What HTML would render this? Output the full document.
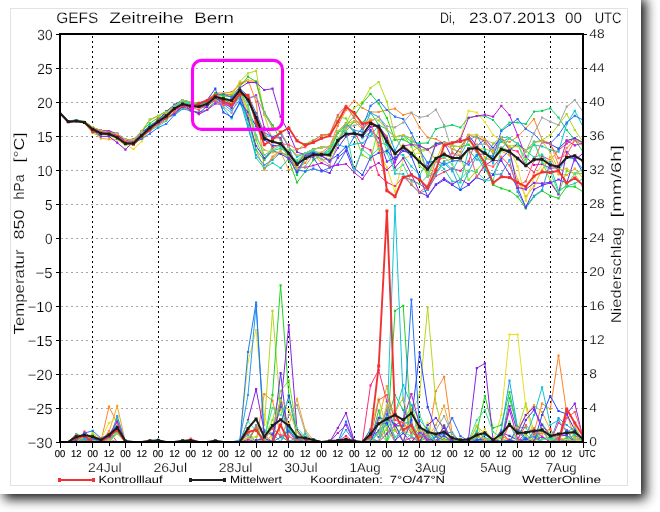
<!DOCTYPE html>
<html lang="de"><head><meta charset="utf-8"><title>GEFS Zeitreihe Bern</title>
<style>
html,body{margin:0;padding:0;background:#fff;}
body{width:660px;height:512px;overflow:hidden;font-family:"Liberation Sans", Arial, sans-serif;}
#root{position:relative;width:660px;height:512px;overflow:hidden;background:#fff;}
#panel{position:absolute;left:-1px;top:-6px;width:642px;height:500px;background:#fff;box-shadow:5px 5px 11px rgba(0,0,0,.92);}
#chart{position:absolute;left:0;top:0;width:660px;height:512px;display:block;will-change:transform;transform:translateZ(0);}
</style></head><body>
<div id="root">
<div id="panel"></div>
<div id="chart"><svg width="660" height="512" viewBox="0 0 660 512"><rect x="10.5" y="8.5" width="617" height="477" fill="none" stroke="#e2e2e2" stroke-width="1"/>
<g stroke="#a6a6a6" stroke-width="1" stroke-dasharray="2 3" shape-rendering="crispEdges"><line x1="61" y1="68.5" x2="582" y2="68.5"/><line x1="61" y1="102.5" x2="582" y2="102.5"/><line x1="61" y1="136.5" x2="582" y2="136.5"/><line x1="61" y1="170.5" x2="582" y2="170.5"/><line x1="61" y1="204.5" x2="582" y2="204.5"/><line x1="61" y1="238.5" x2="582" y2="238.5"/><line x1="61" y1="272.5" x2="582" y2="272.5"/><line x1="61" y1="306.5" x2="582" y2="306.5"/><line x1="61" y1="340.5" x2="582" y2="340.5"/><line x1="61" y1="374.5" x2="582" y2="374.5"/><line x1="61" y1="408.5" x2="582" y2="408.5"/></g>
<g stroke="#000" stroke-width="1" stroke-dasharray="2 3" shape-rendering="crispEdges"><line x1="92.5" y1="36" x2="92.5" y2="441"/><line x1="158.5" y1="36" x2="158.5" y2="441"/><line x1="223.5" y1="36" x2="223.5" y2="441"/><line x1="288.5" y1="36" x2="288.5" y2="441"/><line x1="354.5" y1="36" x2="354.5" y2="441"/><line x1="419.5" y1="36" x2="419.5" y2="441"/><line x1="484.5" y1="36" x2="484.5" y2="441"/><line x1="550.5" y1="36" x2="550.5" y2="441"/></g>
<clipPath id="pc"><rect x="60" y="34" width="523" height="407"/></clipPath>
<g clip-path="url(#pc)" fill="none" stroke-linejoin="round">
<polyline points="60.0,112.5 68.2,121.5 76.3,120.5 84.5,121.5 92.7,127.5 100.9,130.6 109.0,131.4 117.2,136.8 125.4,141.7 133.5,140.4 141.7,133.5 149.9,125.5 158.1,120.2 166.2,112.7 174.4,106.2 182.6,102.9 190.8,102.6 198.9,103.1 207.1,100.0 215.3,93.1 223.4,93.1 231.6,92.2 239.8,84.1 248.0,80.5 256.1,81.8 264.3,113.8 272.5,126.4 280.6,131.3 288.8,146.9 297.0,155.6 305.2,153.2 313.3,149.3 321.5,147.3 329.7,147.3 337.8,131.1 346.0,123.6 354.2,132.1 362.4,146.0 370.5,150.1 378.7,175.0 386.9,182.5 395.0,186.0 403.2,177.0 411.4,180.0 419.6,184.0 427.7,190.0 435.9,176.0 444.1,172.0 452.2,168.4 460.4,170.8 468.6,161.6 476.8,136.6 484.9,141.2 493.1,154.0 501.3,140.3 509.5,149.2 517.6,151.4 525.8,165.1 534.0,172.5 542.1,156.0 550.3,160.2 558.5,150.2 566.7,143.6 574.8,138.2 583.0,142.7" stroke="#ff2a7e" stroke-width="1.0"/>
<path d="M91.6 126.4h2.2v2.2h-2.2zM99.8 129.5h2.2v2.2h-2.2zM107.9 130.3h2.2v2.2h-2.2zM116.1 135.7h2.2v2.2h-2.2zM124.3 140.6h2.2v2.2h-2.2zM132.4 139.3h2.2v2.2h-2.2zM140.6 132.4h2.2v2.2h-2.2zM148.8 124.4h2.2v2.2h-2.2zM157.0 119.1h2.2v2.2h-2.2zM165.1 111.6h2.2v2.2h-2.2zM173.3 105.1h2.2v2.2h-2.2zM181.5 101.8h2.2v2.2h-2.2zM189.7 101.5h2.2v2.2h-2.2zM197.8 102.0h2.2v2.2h-2.2zM206.0 98.9h2.2v2.2h-2.2zM214.2 92.0h2.2v2.2h-2.2zM222.3 92.0h2.2v2.2h-2.2zM230.5 91.1h2.2v2.2h-2.2zM238.7 83.0h2.2v2.2h-2.2zM246.9 79.4h2.2v2.2h-2.2zM255.0 80.7h2.2v2.2h-2.2zM263.2 112.7h2.2v2.2h-2.2zM271.4 125.3h2.2v2.2h-2.2zM279.5 130.2h2.2v2.2h-2.2zM287.7 145.8h2.2v2.2h-2.2zM295.9 154.5h2.2v2.2h-2.2zM304.1 152.1h2.2v2.2h-2.2zM312.2 148.2h2.2v2.2h-2.2zM320.4 146.2h2.2v2.2h-2.2zM328.6 146.2h2.2v2.2h-2.2zM336.7 130.0h2.2v2.2h-2.2zM344.9 122.5h2.2v2.2h-2.2zM353.1 131.0h2.2v2.2h-2.2zM361.3 144.9h2.2v2.2h-2.2zM369.4 149.0h2.2v2.2h-2.2zM377.6 173.9h2.2v2.2h-2.2zM385.8 181.4h2.2v2.2h-2.2zM393.9 184.9h2.2v2.2h-2.2zM402.1 175.9h2.2v2.2h-2.2zM410.3 178.9h2.2v2.2h-2.2zM418.5 182.9h2.2v2.2h-2.2zM426.6 188.9h2.2v2.2h-2.2zM434.8 174.9h2.2v2.2h-2.2zM443.0 170.9h2.2v2.2h-2.2zM451.1 167.3h2.2v2.2h-2.2zM459.3 169.7h2.2v2.2h-2.2zM467.5 160.5h2.2v2.2h-2.2zM475.7 135.5h2.2v2.2h-2.2zM483.8 140.1h2.2v2.2h-2.2zM492.0 152.9h2.2v2.2h-2.2zM500.2 139.2h2.2v2.2h-2.2zM508.4 148.1h2.2v2.2h-2.2zM516.5 150.3h2.2v2.2h-2.2zM524.7 164.0h2.2v2.2h-2.2zM532.9 171.4h2.2v2.2h-2.2zM541.0 154.9h2.2v2.2h-2.2zM549.2 159.1h2.2v2.2h-2.2zM557.4 149.1h2.2v2.2h-2.2zM565.6 142.5h2.2v2.2h-2.2zM573.7 137.1h2.2v2.2h-2.2zM581.9 141.6h2.2v2.2h-2.2z" fill="#ff2a7e" stroke="none"/>
<polyline points="60.0,441.9 68.2,441.9 76.3,441.9 84.5,431.7 92.7,439.3 100.9,440.9 109.0,431.4 117.2,441.9 125.4,441.9 133.5,441.9 141.7,441.9 149.9,441.9 158.1,441.9 166.2,441.9 174.4,441.9 182.6,441.9 190.8,441.9 198.9,441.9 207.1,441.9 215.3,441.9 223.4,441.9 231.6,441.9 239.8,441.9 248.0,441.9 256.1,441.9 264.3,435.3 272.5,441.9 280.6,398.0 288.8,432.0 297.0,441.9 305.2,438.6 313.3,440.0 321.5,441.9 329.7,441.9 337.8,441.0 346.0,436.1 354.2,441.9 362.4,441.9 370.5,385.4 378.7,370.0 386.9,401.6 395.0,430.0 403.2,441.5 411.4,437.5 419.6,441.9 427.7,441.1 435.9,441.9 444.1,441.0 452.2,437.6 460.4,439.9 468.6,441.2 476.8,441.9 484.9,439.8 493.1,441.9 501.3,430.9 509.5,441.9 517.6,441.9 525.8,432.8 534.0,428.4 542.1,437.0 550.3,441.9 558.5,422.7 566.7,430.0 574.8,435.2 583.0,441.2" stroke="#ff2a7e" stroke-width="1.0"/>
<path d="M83.4 430.6h2.2v2.2h-2.2zM91.6 438.2h2.2v2.2h-2.2zM99.8 439.8h2.2v2.2h-2.2zM107.9 430.3h2.2v2.2h-2.2zM263.2 434.2h2.2v2.2h-2.2zM279.5 396.9h2.2v2.2h-2.2zM287.7 430.9h2.2v2.2h-2.2zM304.1 437.5h2.2v2.2h-2.2zM312.2 438.9h2.2v2.2h-2.2zM336.7 439.9h2.2v2.2h-2.2zM344.9 435.0h2.2v2.2h-2.2zM369.4 384.3h2.2v2.2h-2.2zM377.6 368.9h2.2v2.2h-2.2zM385.8 400.5h2.2v2.2h-2.2zM393.9 428.9h2.2v2.2h-2.2zM402.1 440.4h2.2v2.2h-2.2zM410.3 436.4h2.2v2.2h-2.2zM426.6 440.0h2.2v2.2h-2.2zM443.0 439.9h2.2v2.2h-2.2zM451.1 436.5h2.2v2.2h-2.2zM459.3 438.8h2.2v2.2h-2.2zM467.5 440.1h2.2v2.2h-2.2zM483.8 438.7h2.2v2.2h-2.2zM500.2 429.8h2.2v2.2h-2.2zM524.7 431.7h2.2v2.2h-2.2zM532.9 427.3h2.2v2.2h-2.2zM541.0 435.9h2.2v2.2h-2.2zM557.4 421.6h2.2v2.2h-2.2zM565.6 428.9h2.2v2.2h-2.2zM573.7 434.1h2.2v2.2h-2.2zM581.9 440.1h2.2v2.2h-2.2z" fill="#ff2a7e" stroke="none"/>
<polyline points="60.0,112.7 68.2,121.9 76.3,121.4 84.5,122.2 92.7,128.4 100.9,133.3 109.0,131.5 117.2,134.4 125.4,141.1 133.5,143.1 141.7,136.6 149.9,127.7 158.1,121.0 166.2,115.1 174.4,110.8 182.6,104.2 190.8,105.7 198.9,106.9 207.1,103.8 215.3,95.9 223.4,94.8 231.6,94.3 239.8,83.0 248.0,80.0 256.1,101.7 264.3,169.0 272.5,156.5 280.6,150.7 288.8,159.5 297.0,168.2 305.2,162.9 313.3,151.7 321.5,152.5 329.7,146.4 337.8,125.8 346.0,110.0 354.2,100.8 362.4,108.0 370.5,112.0 378.7,112.0 386.9,110.0 395.0,108.7 403.2,115.0 411.4,112.5 419.6,127.5 427.7,137.5 435.9,139.0 444.1,143.5 452.2,149.0 460.4,152.1 468.6,134.9 476.8,137.6 484.9,141.2 493.1,151.3 501.3,140.0 509.5,142.0 517.6,136.7 525.8,128.3 534.0,119.0 542.1,140.0 550.3,143.3 558.5,165.0 566.7,148.0 574.8,140.0 583.0,143.0" stroke="#ff8424" stroke-width="1.0"/>
<path d="M91.6 127.3h2.2v2.2h-2.2zM99.8 132.2h2.2v2.2h-2.2zM107.9 130.4h2.2v2.2h-2.2zM116.1 133.3h2.2v2.2h-2.2zM124.3 140.0h2.2v2.2h-2.2zM132.4 142.0h2.2v2.2h-2.2zM140.6 135.5h2.2v2.2h-2.2zM148.8 126.6h2.2v2.2h-2.2zM157.0 119.9h2.2v2.2h-2.2zM165.1 114.0h2.2v2.2h-2.2zM173.3 109.7h2.2v2.2h-2.2zM181.5 103.1h2.2v2.2h-2.2zM189.7 104.6h2.2v2.2h-2.2zM197.8 105.8h2.2v2.2h-2.2zM206.0 102.7h2.2v2.2h-2.2zM214.2 94.8h2.2v2.2h-2.2zM222.3 93.7h2.2v2.2h-2.2zM230.5 93.2h2.2v2.2h-2.2zM238.7 81.9h2.2v2.2h-2.2zM246.9 78.9h2.2v2.2h-2.2zM255.0 100.6h2.2v2.2h-2.2zM263.2 167.9h2.2v2.2h-2.2zM271.4 155.4h2.2v2.2h-2.2zM279.5 149.6h2.2v2.2h-2.2zM287.7 158.4h2.2v2.2h-2.2zM295.9 167.1h2.2v2.2h-2.2zM304.1 161.8h2.2v2.2h-2.2zM312.2 150.6h2.2v2.2h-2.2zM320.4 151.4h2.2v2.2h-2.2zM328.6 145.3h2.2v2.2h-2.2zM336.7 124.7h2.2v2.2h-2.2zM344.9 108.9h2.2v2.2h-2.2zM353.1 99.7h2.2v2.2h-2.2zM361.3 106.9h2.2v2.2h-2.2zM369.4 110.9h2.2v2.2h-2.2zM377.6 110.9h2.2v2.2h-2.2zM385.8 108.9h2.2v2.2h-2.2zM393.9 107.6h2.2v2.2h-2.2zM402.1 113.9h2.2v2.2h-2.2zM410.3 111.4h2.2v2.2h-2.2zM418.5 126.4h2.2v2.2h-2.2zM426.6 136.4h2.2v2.2h-2.2zM434.8 137.9h2.2v2.2h-2.2zM443.0 142.4h2.2v2.2h-2.2zM451.1 147.9h2.2v2.2h-2.2zM459.3 151.0h2.2v2.2h-2.2zM467.5 133.8h2.2v2.2h-2.2zM475.7 136.5h2.2v2.2h-2.2zM483.8 140.1h2.2v2.2h-2.2zM492.0 150.2h2.2v2.2h-2.2zM500.2 138.9h2.2v2.2h-2.2zM508.4 140.9h2.2v2.2h-2.2zM516.5 135.6h2.2v2.2h-2.2zM524.7 127.2h2.2v2.2h-2.2zM532.9 117.9h2.2v2.2h-2.2zM541.0 138.9h2.2v2.2h-2.2zM549.2 142.2h2.2v2.2h-2.2zM557.4 163.9h2.2v2.2h-2.2zM565.6 146.9h2.2v2.2h-2.2zM573.7 138.9h2.2v2.2h-2.2zM581.9 141.9h2.2v2.2h-2.2z" fill="#ff8424" stroke="none"/>
<polyline points="60.0,441.9 68.2,441.9 76.3,441.9 84.5,439.5 92.7,439.9 100.9,441.7 109.0,406.7 117.2,423.0 125.4,441.9 133.5,441.9 141.7,441.9 149.9,441.9 158.1,441.0 166.2,441.9 174.4,441.9 182.6,441.9 190.8,441.1 198.9,441.9 207.1,441.9 215.3,441.9 223.4,441.9 231.6,441.9 239.8,441.9 248.0,441.9 256.1,441.9 264.3,394.0 272.5,400.7 280.6,435.0 288.8,441.9 297.0,441.9 305.2,441.9 313.3,441.9 321.5,441.9 329.7,441.9 337.8,441.8 346.0,440.5 354.2,441.9 362.4,441.9 370.5,440.4 378.7,440.7 386.9,427.9 395.0,441.9 403.2,441.9 411.4,409.3 419.6,435.2 427.7,441.9 435.9,391.0 444.1,376.8 452.2,434.0 460.4,441.9 468.6,441.9 476.8,436.6 484.9,441.1 493.1,441.9 501.3,436.2 509.5,439.4 517.6,441.9 525.8,441.9 534.0,432.0 542.1,403.6 550.3,409.0 558.5,355.7 566.7,413.0 574.8,438.0 583.0,441.9" stroke="#ff8424" stroke-width="1.0"/>
<path d="M83.4 438.4h2.2v2.2h-2.2zM91.6 438.8h2.2v2.2h-2.2zM107.9 405.6h2.2v2.2h-2.2zM116.1 421.9h2.2v2.2h-2.2zM157.0 439.9h2.2v2.2h-2.2zM189.7 440.0h2.2v2.2h-2.2zM263.2 392.9h2.2v2.2h-2.2zM271.4 399.6h2.2v2.2h-2.2zM279.5 433.9h2.2v2.2h-2.2zM344.9 439.4h2.2v2.2h-2.2zM369.4 439.3h2.2v2.2h-2.2zM377.6 439.6h2.2v2.2h-2.2zM385.8 426.8h2.2v2.2h-2.2zM410.3 408.2h2.2v2.2h-2.2zM418.5 434.1h2.2v2.2h-2.2zM434.8 389.9h2.2v2.2h-2.2zM443.0 375.7h2.2v2.2h-2.2zM451.1 432.9h2.2v2.2h-2.2zM475.7 435.5h2.2v2.2h-2.2zM483.8 440.0h2.2v2.2h-2.2zM500.2 435.1h2.2v2.2h-2.2zM508.4 438.3h2.2v2.2h-2.2zM532.9 430.9h2.2v2.2h-2.2zM541.0 402.5h2.2v2.2h-2.2zM549.2 407.9h2.2v2.2h-2.2zM557.4 354.6h2.2v2.2h-2.2zM565.6 411.9h2.2v2.2h-2.2zM573.7 436.9h2.2v2.2h-2.2z" fill="#ff8424" stroke="none"/>
<polyline points="60.0,112.7 68.2,121.9 76.3,121.1 84.5,122.0 92.7,130.2 100.9,138.5 109.0,139.1 117.2,139.5 125.4,145.1 133.5,142.9 141.7,137.8 149.9,128.4 158.1,122.5 166.2,115.6 174.4,107.7 182.6,101.7 190.8,106.3 198.9,107.2 207.1,106.5 215.3,99.1 223.4,100.1 231.6,102.3 239.8,92.0 248.0,115.0 256.1,150.0 264.3,170.0 272.5,158.0 280.6,151.9 288.8,170.0 297.0,166.4 305.2,154.0 313.3,154.0 321.5,163.1 329.7,153.6 337.8,138.9 346.0,128.5 354.2,121.4 362.4,129.3 370.5,121.2 378.7,127.1 386.9,135.9 395.0,155.9 403.2,144.9 411.4,152.1 419.6,146.5 427.7,149.6 435.9,159.9 444.1,152.6 452.2,160.3 460.4,161.2 468.6,148.8 476.8,144.3 484.9,157.7 493.1,161.2 501.3,151.1 509.5,155.2 517.6,179.6 525.8,196.5 534.0,186.2 542.1,169.8 550.3,156.8 558.5,174.3 566.7,175.0 574.8,168.7 583.0,178.2" stroke="#f2a822" stroke-width="1.0"/>
<path d="M91.6 129.1h2.2v2.2h-2.2zM99.8 137.4h2.2v2.2h-2.2zM107.9 138.0h2.2v2.2h-2.2zM116.1 138.4h2.2v2.2h-2.2zM124.3 144.0h2.2v2.2h-2.2zM132.4 141.8h2.2v2.2h-2.2zM140.6 136.7h2.2v2.2h-2.2zM148.8 127.3h2.2v2.2h-2.2zM157.0 121.4h2.2v2.2h-2.2zM165.1 114.5h2.2v2.2h-2.2zM173.3 106.6h2.2v2.2h-2.2zM181.5 100.6h2.2v2.2h-2.2zM189.7 105.2h2.2v2.2h-2.2zM197.8 106.1h2.2v2.2h-2.2zM206.0 105.4h2.2v2.2h-2.2zM214.2 98.0h2.2v2.2h-2.2zM222.3 99.0h2.2v2.2h-2.2zM230.5 101.2h2.2v2.2h-2.2zM238.7 90.9h2.2v2.2h-2.2zM246.9 113.9h2.2v2.2h-2.2zM255.0 148.9h2.2v2.2h-2.2zM263.2 168.9h2.2v2.2h-2.2zM271.4 156.9h2.2v2.2h-2.2zM279.5 150.8h2.2v2.2h-2.2zM287.7 168.9h2.2v2.2h-2.2zM295.9 165.3h2.2v2.2h-2.2zM304.1 152.9h2.2v2.2h-2.2zM312.2 152.9h2.2v2.2h-2.2zM320.4 162.0h2.2v2.2h-2.2zM328.6 152.5h2.2v2.2h-2.2zM336.7 137.8h2.2v2.2h-2.2zM344.9 127.4h2.2v2.2h-2.2zM353.1 120.3h2.2v2.2h-2.2zM361.3 128.2h2.2v2.2h-2.2zM369.4 120.1h2.2v2.2h-2.2zM377.6 126.0h2.2v2.2h-2.2zM385.8 134.8h2.2v2.2h-2.2zM393.9 154.8h2.2v2.2h-2.2zM402.1 143.8h2.2v2.2h-2.2zM410.3 151.0h2.2v2.2h-2.2zM418.5 145.4h2.2v2.2h-2.2zM426.6 148.5h2.2v2.2h-2.2zM434.8 158.8h2.2v2.2h-2.2zM443.0 151.5h2.2v2.2h-2.2zM451.1 159.2h2.2v2.2h-2.2zM459.3 160.1h2.2v2.2h-2.2zM467.5 147.7h2.2v2.2h-2.2zM475.7 143.2h2.2v2.2h-2.2zM483.8 156.6h2.2v2.2h-2.2zM492.0 160.1h2.2v2.2h-2.2zM500.2 150.0h2.2v2.2h-2.2zM508.4 154.1h2.2v2.2h-2.2zM516.5 178.5h2.2v2.2h-2.2zM524.7 195.4h2.2v2.2h-2.2zM532.9 185.1h2.2v2.2h-2.2zM541.0 168.7h2.2v2.2h-2.2zM549.2 155.7h2.2v2.2h-2.2zM557.4 173.2h2.2v2.2h-2.2zM565.6 173.9h2.2v2.2h-2.2zM573.7 167.6h2.2v2.2h-2.2zM581.9 177.1h2.2v2.2h-2.2z" fill="#f2a822" stroke="none"/>
<polyline points="60.0,441.9 68.2,441.9 76.3,439.7 84.5,441.9 92.7,435.3 100.9,440.7 109.0,432.0 117.2,405.8 125.4,441.9 133.5,441.9 141.7,441.9 149.9,441.9 158.1,441.1 166.2,441.9 174.4,441.9 182.6,441.9 190.8,441.2 198.9,441.9 207.1,441.9 215.3,441.9 223.4,441.9 231.6,441.9 239.8,441.9 248.0,431.7 256.1,441.9 264.3,441.3 272.5,435.5 280.6,403.8 288.8,425.0 297.0,398.8 305.2,430.0 313.3,440.0 321.5,441.9 329.7,441.9 337.8,441.9 346.0,441.9 354.2,441.9 362.4,441.9 370.5,441.9 378.7,420.0 386.9,386.0 395.0,425.0 403.2,441.9 411.4,441.9 419.6,436.5 427.7,438.1 435.9,425.0 444.1,405.5 452.2,438.0 460.4,441.9 468.6,441.9 476.8,426.3 484.9,433.6 493.1,439.3 501.3,434.6 509.5,441.9 517.6,429.9 525.8,415.0 534.0,405.0 542.1,412.0 550.3,430.0 558.5,441.9 566.7,441.9 574.8,436.9 583.0,441.9" stroke="#f2a822" stroke-width="1.0"/>
<path d="M75.2 438.6h2.2v2.2h-2.2zM91.6 434.2h2.2v2.2h-2.2zM99.8 439.6h2.2v2.2h-2.2zM107.9 430.9h2.2v2.2h-2.2zM116.1 404.7h2.2v2.2h-2.2zM157.0 440.0h2.2v2.2h-2.2zM189.7 440.1h2.2v2.2h-2.2zM246.9 430.6h2.2v2.2h-2.2zM263.2 440.2h2.2v2.2h-2.2zM271.4 434.4h2.2v2.2h-2.2zM279.5 402.7h2.2v2.2h-2.2zM287.7 423.9h2.2v2.2h-2.2zM295.9 397.7h2.2v2.2h-2.2zM304.1 428.9h2.2v2.2h-2.2zM312.2 438.9h2.2v2.2h-2.2zM377.6 418.9h2.2v2.2h-2.2zM385.8 384.9h2.2v2.2h-2.2zM393.9 423.9h2.2v2.2h-2.2zM418.5 435.4h2.2v2.2h-2.2zM426.6 437.0h2.2v2.2h-2.2zM434.8 423.9h2.2v2.2h-2.2zM443.0 404.4h2.2v2.2h-2.2zM451.1 436.9h2.2v2.2h-2.2zM475.7 425.2h2.2v2.2h-2.2zM483.8 432.5h2.2v2.2h-2.2zM492.0 438.2h2.2v2.2h-2.2zM500.2 433.5h2.2v2.2h-2.2zM516.5 428.8h2.2v2.2h-2.2zM524.7 413.9h2.2v2.2h-2.2zM532.9 403.9h2.2v2.2h-2.2zM541.0 410.9h2.2v2.2h-2.2zM549.2 428.9h2.2v2.2h-2.2zM573.7 435.8h2.2v2.2h-2.2z" fill="#f2a822" stroke="none"/>
<polyline points="60.0,112.9 68.2,121.9 76.3,121.2 84.5,122.4 92.7,130.7 100.9,132.7 109.0,134.1 117.2,137.9 125.4,144.8 133.5,149.2 141.7,141.5 149.9,128.4 158.1,118.1 166.2,114.9 174.4,105.8 182.6,101.6 190.8,105.1 198.9,103.0 207.1,100.0 215.3,93.1 223.4,93.2 231.6,92.8 239.8,85.6 248.0,80.5 256.1,81.8 264.3,112.6 272.5,126.4 280.6,131.3 288.8,146.9 297.0,155.6 305.2,153.2 313.3,149.3 321.5,147.3 329.7,147.3 337.8,131.1 346.0,123.6 354.2,121.4 362.4,122.9 370.5,121.6 378.7,151.3 386.9,167.4 395.0,191.7 403.2,159.0 411.4,155.1 419.6,153.0 427.7,149.6 435.9,143.6 444.1,142.7 452.2,143.2 460.4,137.9 468.6,110.8 476.8,112.5 484.9,122.0 493.1,135.0 501.3,141.1 509.5,147.5 517.6,166.3 525.8,200.8 534.0,177.4 542.1,164.5 550.3,160.8 558.5,148.6 566.7,140.7 574.8,138.2 583.0,142.7" stroke="#e9e020" stroke-width="1.0"/>
<path d="M91.6 129.6h2.2v2.2h-2.2zM99.8 131.6h2.2v2.2h-2.2zM107.9 133.0h2.2v2.2h-2.2zM116.1 136.8h2.2v2.2h-2.2zM124.3 143.7h2.2v2.2h-2.2zM132.4 148.1h2.2v2.2h-2.2zM140.6 140.4h2.2v2.2h-2.2zM148.8 127.3h2.2v2.2h-2.2zM157.0 117.0h2.2v2.2h-2.2zM165.1 113.8h2.2v2.2h-2.2zM173.3 104.7h2.2v2.2h-2.2zM181.5 100.5h2.2v2.2h-2.2zM189.7 104.0h2.2v2.2h-2.2zM197.8 101.9h2.2v2.2h-2.2zM206.0 98.9h2.2v2.2h-2.2zM214.2 92.0h2.2v2.2h-2.2zM222.3 92.1h2.2v2.2h-2.2zM230.5 91.7h2.2v2.2h-2.2zM238.7 84.5h2.2v2.2h-2.2zM246.9 79.4h2.2v2.2h-2.2zM255.0 80.7h2.2v2.2h-2.2zM263.2 111.5h2.2v2.2h-2.2zM271.4 125.3h2.2v2.2h-2.2zM279.5 130.2h2.2v2.2h-2.2zM287.7 145.8h2.2v2.2h-2.2zM295.9 154.5h2.2v2.2h-2.2zM304.1 152.1h2.2v2.2h-2.2zM312.2 148.2h2.2v2.2h-2.2zM320.4 146.2h2.2v2.2h-2.2zM328.6 146.2h2.2v2.2h-2.2zM336.7 130.0h2.2v2.2h-2.2zM344.9 122.5h2.2v2.2h-2.2zM353.1 120.3h2.2v2.2h-2.2zM361.3 121.8h2.2v2.2h-2.2zM369.4 120.5h2.2v2.2h-2.2zM377.6 150.2h2.2v2.2h-2.2zM385.8 166.3h2.2v2.2h-2.2zM393.9 190.6h2.2v2.2h-2.2zM402.1 157.9h2.2v2.2h-2.2zM410.3 154.0h2.2v2.2h-2.2zM418.5 151.9h2.2v2.2h-2.2zM426.6 148.5h2.2v2.2h-2.2zM434.8 142.5h2.2v2.2h-2.2zM443.0 141.6h2.2v2.2h-2.2zM451.1 142.1h2.2v2.2h-2.2zM459.3 136.8h2.2v2.2h-2.2zM467.5 109.7h2.2v2.2h-2.2zM475.7 111.4h2.2v2.2h-2.2zM483.8 120.9h2.2v2.2h-2.2zM492.0 133.9h2.2v2.2h-2.2zM500.2 140.0h2.2v2.2h-2.2zM508.4 146.4h2.2v2.2h-2.2zM516.5 165.2h2.2v2.2h-2.2zM524.7 199.7h2.2v2.2h-2.2zM532.9 176.3h2.2v2.2h-2.2zM541.0 163.4h2.2v2.2h-2.2zM549.2 159.7h2.2v2.2h-2.2zM557.4 147.5h2.2v2.2h-2.2zM565.6 139.6h2.2v2.2h-2.2zM573.7 137.1h2.2v2.2h-2.2zM581.9 141.6h2.2v2.2h-2.2z" fill="#e9e020" stroke="none"/>
<polyline points="60.0,441.9 68.2,441.9 76.3,439.7 84.5,438.0 92.7,438.9 100.9,439.1 109.0,423.0 117.2,418.0 125.4,441.9 133.5,441.9 141.7,441.9 149.9,441.9 158.1,440.5 166.2,441.9 174.4,441.9 182.6,441.9 190.8,441.9 198.9,441.9 207.1,441.9 215.3,441.9 223.4,441.9 231.6,441.9 239.8,441.9 248.0,361.5 256.1,330.0 264.3,415.0 272.5,441.9 280.6,441.9 288.8,429.7 297.0,441.2 305.2,441.3 313.3,441.2 321.5,441.9 329.7,441.9 337.8,441.9 346.0,441.9 354.2,441.9 362.4,441.9 370.5,441.2 378.7,441.9 386.9,417.5 395.0,411.2 403.2,432.0 411.4,432.2 419.6,439.0 427.7,422.8 435.9,441.9 444.1,441.9 452.2,439.0 460.4,441.4 468.6,441.6 476.8,437.5 484.9,429.2 493.1,441.9 501.3,415.0 509.5,334.5 517.6,334.5 525.8,407.0 534.0,438.0 542.1,441.9 550.3,441.9 558.5,438.4 566.7,438.8 574.8,441.9 583.0,441.9" stroke="#e9e020" stroke-width="1.0"/>
<path d="M75.2 438.6h2.2v2.2h-2.2zM83.4 436.9h2.2v2.2h-2.2zM91.6 437.8h2.2v2.2h-2.2zM99.8 438.0h2.2v2.2h-2.2zM107.9 421.9h2.2v2.2h-2.2zM116.1 416.9h2.2v2.2h-2.2zM157.0 439.4h2.2v2.2h-2.2zM246.9 360.4h2.2v2.2h-2.2zM255.0 328.9h2.2v2.2h-2.2zM263.2 413.9h2.2v2.2h-2.2zM287.7 428.6h2.2v2.2h-2.2zM295.9 440.1h2.2v2.2h-2.2zM304.1 440.2h2.2v2.2h-2.2zM312.2 440.1h2.2v2.2h-2.2zM369.4 440.1h2.2v2.2h-2.2zM385.8 416.4h2.2v2.2h-2.2zM393.9 410.1h2.2v2.2h-2.2zM402.1 430.9h2.2v2.2h-2.2zM410.3 431.1h2.2v2.2h-2.2zM418.5 437.9h2.2v2.2h-2.2zM426.6 421.7h2.2v2.2h-2.2zM451.1 437.9h2.2v2.2h-2.2zM459.3 440.3h2.2v2.2h-2.2zM475.7 436.4h2.2v2.2h-2.2zM483.8 428.1h2.2v2.2h-2.2zM500.2 413.9h2.2v2.2h-2.2zM508.4 333.4h2.2v2.2h-2.2zM516.5 333.4h2.2v2.2h-2.2zM524.7 405.9h2.2v2.2h-2.2zM532.9 436.9h2.2v2.2h-2.2zM557.4 437.3h2.2v2.2h-2.2zM565.6 437.7h2.2v2.2h-2.2z" fill="#e9e020" stroke="none"/>
<polyline points="60.0,112.8 68.2,122.0 76.3,121.2 84.5,122.8 92.7,128.8 100.9,133.5 109.0,133.4 117.2,137.4 125.4,141.1 133.5,140.2 141.7,131.0 149.9,119.5 158.1,116.0 166.2,113.6 174.4,107.5 182.6,104.4 190.8,107.8 198.9,104.0 207.1,102.0 215.3,95.1 223.4,95.9 231.6,96.0 239.8,81.7 248.0,73.3 256.1,70.8 264.3,115.0 272.5,140.0 280.6,144.5 288.8,153.2 297.0,162.4 305.2,153.2 313.3,154.9 321.5,159.6 329.7,159.2 337.8,140.4 346.0,123.3 354.2,108.0 362.4,102.0 370.5,88.0 378.7,82.0 386.9,101.7 395.0,136.7 403.2,150.0 411.4,155.2 419.6,158.8 427.7,176.1 435.9,168.7 444.1,161.0 452.2,159.0 460.4,147.0 468.6,137.4 476.8,148.9 484.9,149.0 493.1,151.8 501.3,141.6 509.5,146.2 517.6,144.6 525.8,151.3 534.0,142.1 542.1,140.0 550.3,135.0 558.5,125.0 566.7,114.0 574.8,130.0 583.0,141.7" stroke="#b4d81c" stroke-width="1.0"/>
<path d="M91.6 127.7h2.2v2.2h-2.2zM99.8 132.4h2.2v2.2h-2.2zM107.9 132.3h2.2v2.2h-2.2zM116.1 136.3h2.2v2.2h-2.2zM124.3 140.0h2.2v2.2h-2.2zM132.4 139.1h2.2v2.2h-2.2zM140.6 129.9h2.2v2.2h-2.2zM148.8 118.4h2.2v2.2h-2.2zM157.0 114.9h2.2v2.2h-2.2zM165.1 112.5h2.2v2.2h-2.2zM173.3 106.4h2.2v2.2h-2.2zM181.5 103.3h2.2v2.2h-2.2zM189.7 106.7h2.2v2.2h-2.2zM197.8 102.9h2.2v2.2h-2.2zM206.0 100.9h2.2v2.2h-2.2zM214.2 94.0h2.2v2.2h-2.2zM222.3 94.8h2.2v2.2h-2.2zM230.5 94.9h2.2v2.2h-2.2zM238.7 80.6h2.2v2.2h-2.2zM246.9 72.2h2.2v2.2h-2.2zM255.0 69.7h2.2v2.2h-2.2zM263.2 113.9h2.2v2.2h-2.2zM271.4 138.9h2.2v2.2h-2.2zM279.5 143.4h2.2v2.2h-2.2zM287.7 152.1h2.2v2.2h-2.2zM295.9 161.3h2.2v2.2h-2.2zM304.1 152.1h2.2v2.2h-2.2zM312.2 153.8h2.2v2.2h-2.2zM320.4 158.5h2.2v2.2h-2.2zM328.6 158.1h2.2v2.2h-2.2zM336.7 139.3h2.2v2.2h-2.2zM344.9 122.2h2.2v2.2h-2.2zM353.1 106.9h2.2v2.2h-2.2zM361.3 100.9h2.2v2.2h-2.2zM369.4 86.9h2.2v2.2h-2.2zM377.6 80.9h2.2v2.2h-2.2zM385.8 100.6h2.2v2.2h-2.2zM393.9 135.6h2.2v2.2h-2.2zM402.1 148.9h2.2v2.2h-2.2zM410.3 154.1h2.2v2.2h-2.2zM418.5 157.7h2.2v2.2h-2.2zM426.6 175.0h2.2v2.2h-2.2zM434.8 167.6h2.2v2.2h-2.2zM443.0 159.9h2.2v2.2h-2.2zM451.1 157.9h2.2v2.2h-2.2zM459.3 145.9h2.2v2.2h-2.2zM467.5 136.3h2.2v2.2h-2.2zM475.7 147.8h2.2v2.2h-2.2zM483.8 147.9h2.2v2.2h-2.2zM492.0 150.7h2.2v2.2h-2.2zM500.2 140.5h2.2v2.2h-2.2zM508.4 145.1h2.2v2.2h-2.2zM516.5 143.5h2.2v2.2h-2.2zM524.7 150.2h2.2v2.2h-2.2zM532.9 141.0h2.2v2.2h-2.2zM541.0 138.9h2.2v2.2h-2.2zM549.2 133.9h2.2v2.2h-2.2zM557.4 123.9h2.2v2.2h-2.2zM565.6 112.9h2.2v2.2h-2.2zM573.7 128.9h2.2v2.2h-2.2zM581.9 140.6h2.2v2.2h-2.2z" fill="#b4d81c" stroke="none"/>
<polyline points="60.0,441.9 68.2,441.9 76.3,441.9 84.5,441.9 92.7,432.8 100.9,439.6 109.0,438.3 117.2,417.0 125.4,441.9 133.5,441.9 141.7,441.9 149.9,441.9 158.1,441.8 166.2,441.9 174.4,441.9 182.6,441.9 190.8,439.5 198.9,441.9 207.1,441.9 215.3,441.9 223.4,441.9 231.6,441.9 239.8,441.9 248.0,437.5 256.1,436.9 264.3,425.0 272.5,310.8 280.6,410.0 288.8,436.0 297.0,441.9 305.2,438.0 313.3,439.4 321.5,441.9 329.7,441.9 337.8,441.4 346.0,438.9 354.2,441.9 362.4,441.9 370.5,430.0 378.7,398.8 386.9,430.0 395.0,430.6 403.2,429.5 411.4,413.5 419.6,395.0 427.7,307.5 435.9,403.5 444.1,436.0 452.2,438.8 460.4,438.6 468.6,441.9 476.8,425.6 484.9,441.9 493.1,441.3 501.3,441.9 509.5,423.8 517.6,430.0 525.8,403.6 534.0,432.0 542.1,441.9 550.3,441.9 558.5,441.9 566.7,437.0 574.8,439.6 583.0,441.9" stroke="#b4d81c" stroke-width="1.0"/>
<path d="M91.6 431.7h2.2v2.2h-2.2zM99.8 438.5h2.2v2.2h-2.2zM107.9 437.2h2.2v2.2h-2.2zM116.1 415.9h2.2v2.2h-2.2zM189.7 438.4h2.2v2.2h-2.2zM246.9 436.4h2.2v2.2h-2.2zM255.0 435.8h2.2v2.2h-2.2zM263.2 423.9h2.2v2.2h-2.2zM271.4 309.7h2.2v2.2h-2.2zM279.5 408.9h2.2v2.2h-2.2zM287.7 434.9h2.2v2.2h-2.2zM304.1 436.9h2.2v2.2h-2.2zM312.2 438.3h2.2v2.2h-2.2zM336.7 440.3h2.2v2.2h-2.2zM344.9 437.8h2.2v2.2h-2.2zM369.4 428.9h2.2v2.2h-2.2zM377.6 397.7h2.2v2.2h-2.2zM385.8 428.9h2.2v2.2h-2.2zM393.9 429.5h2.2v2.2h-2.2zM402.1 428.4h2.2v2.2h-2.2zM410.3 412.4h2.2v2.2h-2.2zM418.5 393.9h2.2v2.2h-2.2zM426.6 306.4h2.2v2.2h-2.2zM434.8 402.4h2.2v2.2h-2.2zM443.0 434.9h2.2v2.2h-2.2zM451.1 437.7h2.2v2.2h-2.2zM459.3 437.5h2.2v2.2h-2.2zM475.7 424.5h2.2v2.2h-2.2zM492.0 440.2h2.2v2.2h-2.2zM508.4 422.7h2.2v2.2h-2.2zM516.5 428.9h2.2v2.2h-2.2zM524.7 402.5h2.2v2.2h-2.2zM532.9 430.9h2.2v2.2h-2.2zM565.6 435.9h2.2v2.2h-2.2zM573.7 438.5h2.2v2.2h-2.2z" fill="#b4d81c" stroke="none"/>
<polyline points="60.0,113.2 68.2,122.0 76.3,120.8 84.5,122.6 92.7,133.0 100.9,136.5 109.0,136.1 117.2,137.7 125.4,144.4 133.5,142.2 141.7,133.0 149.9,128.3 158.1,121.0 166.2,118.4 174.4,114.7 182.6,107.9 190.8,110.2 198.9,114.0 207.1,109.9 215.3,99.5 223.4,98.5 231.6,100.4 239.8,90.0 248.0,110.0 256.1,140.0 264.3,160.0 272.5,146.5 280.6,144.6 288.8,150.3 297.0,150.0 305.2,144.0 313.3,140.0 321.5,136.0 329.7,134.5 337.8,117.0 346.0,118.4 354.2,134.0 362.4,155.1 370.5,159.8 378.7,127.6 386.9,150.8 395.0,137.0 403.2,135.1 411.4,146.3 419.6,166.1 427.7,171.9 435.9,143.6 444.1,142.3 452.2,145.8 460.4,156.7 468.6,180.0 476.8,170.1 484.9,160.8 493.1,154.6 501.3,147.7 509.5,150.4 517.6,143.9 525.8,159.5 534.0,141.9 542.1,161.8 550.3,180.5 558.5,193.7 566.7,170.9 574.8,173.8 583.0,173.5" stroke="#78e01e" stroke-width="1.0"/>
<path d="M91.6 131.9h2.2v2.2h-2.2zM99.8 135.4h2.2v2.2h-2.2zM107.9 135.0h2.2v2.2h-2.2zM116.1 136.6h2.2v2.2h-2.2zM124.3 143.3h2.2v2.2h-2.2zM132.4 141.1h2.2v2.2h-2.2zM140.6 131.9h2.2v2.2h-2.2zM148.8 127.2h2.2v2.2h-2.2zM157.0 119.9h2.2v2.2h-2.2zM165.1 117.3h2.2v2.2h-2.2zM173.3 113.6h2.2v2.2h-2.2zM181.5 106.8h2.2v2.2h-2.2zM189.7 109.1h2.2v2.2h-2.2zM197.8 112.9h2.2v2.2h-2.2zM206.0 108.8h2.2v2.2h-2.2zM214.2 98.4h2.2v2.2h-2.2zM222.3 97.4h2.2v2.2h-2.2zM230.5 99.3h2.2v2.2h-2.2zM238.7 88.9h2.2v2.2h-2.2zM246.9 108.9h2.2v2.2h-2.2zM255.0 138.9h2.2v2.2h-2.2zM263.2 158.9h2.2v2.2h-2.2zM271.4 145.4h2.2v2.2h-2.2zM279.5 143.5h2.2v2.2h-2.2zM287.7 149.2h2.2v2.2h-2.2zM295.9 148.9h2.2v2.2h-2.2zM304.1 142.9h2.2v2.2h-2.2zM312.2 138.9h2.2v2.2h-2.2zM320.4 134.9h2.2v2.2h-2.2zM328.6 133.4h2.2v2.2h-2.2zM336.7 115.9h2.2v2.2h-2.2zM344.9 117.3h2.2v2.2h-2.2zM353.1 132.9h2.2v2.2h-2.2zM361.3 154.0h2.2v2.2h-2.2zM369.4 158.7h2.2v2.2h-2.2zM377.6 126.5h2.2v2.2h-2.2zM385.8 149.7h2.2v2.2h-2.2zM393.9 135.9h2.2v2.2h-2.2zM402.1 134.0h2.2v2.2h-2.2zM410.3 145.2h2.2v2.2h-2.2zM418.5 165.0h2.2v2.2h-2.2zM426.6 170.8h2.2v2.2h-2.2zM434.8 142.5h2.2v2.2h-2.2zM443.0 141.2h2.2v2.2h-2.2zM451.1 144.7h2.2v2.2h-2.2zM459.3 155.6h2.2v2.2h-2.2zM467.5 178.9h2.2v2.2h-2.2zM475.7 169.0h2.2v2.2h-2.2zM483.8 159.7h2.2v2.2h-2.2zM492.0 153.5h2.2v2.2h-2.2zM500.2 146.6h2.2v2.2h-2.2zM508.4 149.3h2.2v2.2h-2.2zM516.5 142.8h2.2v2.2h-2.2zM524.7 158.4h2.2v2.2h-2.2zM532.9 140.8h2.2v2.2h-2.2zM541.0 160.7h2.2v2.2h-2.2zM549.2 179.4h2.2v2.2h-2.2zM557.4 192.6h2.2v2.2h-2.2zM565.6 169.8h2.2v2.2h-2.2zM573.7 172.7h2.2v2.2h-2.2zM581.9 172.4h2.2v2.2h-2.2z" fill="#78e01e" stroke="none"/>
<polyline points="60.0,441.9 68.2,441.9 76.3,439.0 84.5,441.4 92.7,438.9 100.9,441.9 109.0,441.9 117.2,433.4 125.4,441.9 133.5,441.9 141.7,441.9 149.9,441.9 158.1,441.9 166.2,441.9 174.4,441.9 182.6,441.9 190.8,440.9 198.9,441.9 207.1,441.9 215.3,441.9 223.4,441.9 231.6,441.9 239.8,441.9 248.0,441.9 256.1,441.9 264.3,439.0 272.5,420.0 280.6,391.0 288.8,380.6 297.0,430.0 305.2,438.0 313.3,440.6 321.5,441.9 329.7,441.9 337.8,440.9 346.0,439.1 354.2,441.9 362.4,441.9 370.5,441.9 378.7,431.5 386.9,441.9 395.0,427.3 403.2,425.0 411.4,405.0 419.6,432.0 427.7,430.3 435.9,436.7 444.1,440.7 452.2,440.6 460.4,441.4 468.6,441.9 476.8,437.7 484.9,438.8 493.1,441.2 501.3,438.2 509.5,441.9 517.6,433.8 525.8,433.8 534.0,441.9 542.1,441.9 550.3,441.9 558.5,441.9 566.7,441.9 574.8,438.8 583.0,440.0" stroke="#78e01e" stroke-width="1.0"/>
<path d="M75.2 437.9h2.2v2.2h-2.2zM83.4 440.3h2.2v2.2h-2.2zM91.6 437.8h2.2v2.2h-2.2zM116.1 432.3h2.2v2.2h-2.2zM189.7 439.8h2.2v2.2h-2.2zM263.2 437.9h2.2v2.2h-2.2zM271.4 418.9h2.2v2.2h-2.2zM279.5 389.9h2.2v2.2h-2.2zM287.7 379.5h2.2v2.2h-2.2zM295.9 428.9h2.2v2.2h-2.2zM304.1 436.9h2.2v2.2h-2.2zM312.2 439.5h2.2v2.2h-2.2zM336.7 439.8h2.2v2.2h-2.2zM344.9 438.0h2.2v2.2h-2.2zM377.6 430.4h2.2v2.2h-2.2zM393.9 426.2h2.2v2.2h-2.2zM402.1 423.9h2.2v2.2h-2.2zM410.3 403.9h2.2v2.2h-2.2zM418.5 430.9h2.2v2.2h-2.2zM426.6 429.2h2.2v2.2h-2.2zM434.8 435.6h2.2v2.2h-2.2zM443.0 439.6h2.2v2.2h-2.2zM451.1 439.5h2.2v2.2h-2.2zM459.3 440.3h2.2v2.2h-2.2zM475.7 436.6h2.2v2.2h-2.2zM483.8 437.7h2.2v2.2h-2.2zM492.0 440.1h2.2v2.2h-2.2zM500.2 437.1h2.2v2.2h-2.2zM516.5 432.7h2.2v2.2h-2.2zM524.7 432.7h2.2v2.2h-2.2zM573.7 437.7h2.2v2.2h-2.2zM581.9 438.9h2.2v2.2h-2.2z" fill="#78e01e" stroke="none"/>
<polyline points="60.0,112.3 68.2,121.1 76.3,119.9 84.5,121.2 92.7,127.4 100.9,131.0 109.0,132.3 117.2,137.0 125.4,139.9 133.5,139.3 141.7,131.4 149.9,123.3 158.1,117.8 166.2,115.2 174.4,107.9 182.6,101.2 190.8,102.1 198.9,104.8 207.1,102.7 215.3,93.1 223.4,96.0 231.6,96.4 239.8,86.8 248.0,76.7 256.1,81.7 264.3,112.0 272.5,125.0 280.6,140.0 288.8,160.0 297.0,182.5 305.2,171.7 313.3,160.2 321.5,154.6 329.7,151.0 337.8,133.0 346.0,125.0 354.2,116.4 362.4,103.3 370.5,93.8 378.7,103.3 386.9,118.0 395.0,140.0 403.2,139.3 411.4,144.3 419.6,150.1 427.7,149.6 435.9,143.6 444.1,142.3 452.2,145.8 460.4,146.8 468.6,144.7 476.8,152.0 484.9,167.4 493.1,185.0 501.3,188.3 509.5,190.8 517.6,196.7 525.8,208.3 534.0,196.7 542.1,190.8 550.3,195.8 558.5,198.3 566.7,186.7 574.8,186.7 583.0,191.7" stroke="#22d222" stroke-width="1.0"/>
<path d="M91.6 126.3h2.2v2.2h-2.2zM99.8 129.9h2.2v2.2h-2.2zM107.9 131.2h2.2v2.2h-2.2zM116.1 135.9h2.2v2.2h-2.2zM124.3 138.8h2.2v2.2h-2.2zM132.4 138.2h2.2v2.2h-2.2zM140.6 130.3h2.2v2.2h-2.2zM148.8 122.2h2.2v2.2h-2.2zM157.0 116.7h2.2v2.2h-2.2zM165.1 114.1h2.2v2.2h-2.2zM173.3 106.8h2.2v2.2h-2.2zM181.5 100.1h2.2v2.2h-2.2zM189.7 101.0h2.2v2.2h-2.2zM197.8 103.7h2.2v2.2h-2.2zM206.0 101.6h2.2v2.2h-2.2zM214.2 92.0h2.2v2.2h-2.2zM222.3 94.9h2.2v2.2h-2.2zM230.5 95.3h2.2v2.2h-2.2zM238.7 85.7h2.2v2.2h-2.2zM246.9 75.6h2.2v2.2h-2.2zM255.0 80.6h2.2v2.2h-2.2zM263.2 110.9h2.2v2.2h-2.2zM271.4 123.9h2.2v2.2h-2.2zM279.5 138.9h2.2v2.2h-2.2zM287.7 158.9h2.2v2.2h-2.2zM295.9 181.4h2.2v2.2h-2.2zM304.1 170.6h2.2v2.2h-2.2zM312.2 159.1h2.2v2.2h-2.2zM320.4 153.5h2.2v2.2h-2.2zM328.6 149.9h2.2v2.2h-2.2zM336.7 131.9h2.2v2.2h-2.2zM344.9 123.9h2.2v2.2h-2.2zM353.1 115.3h2.2v2.2h-2.2zM361.3 102.2h2.2v2.2h-2.2zM369.4 92.7h2.2v2.2h-2.2zM377.6 102.2h2.2v2.2h-2.2zM385.8 116.9h2.2v2.2h-2.2zM393.9 138.9h2.2v2.2h-2.2zM402.1 138.2h2.2v2.2h-2.2zM410.3 143.2h2.2v2.2h-2.2zM418.5 149.0h2.2v2.2h-2.2zM426.6 148.5h2.2v2.2h-2.2zM434.8 142.5h2.2v2.2h-2.2zM443.0 141.2h2.2v2.2h-2.2zM451.1 144.7h2.2v2.2h-2.2zM459.3 145.7h2.2v2.2h-2.2zM467.5 143.6h2.2v2.2h-2.2zM475.7 150.9h2.2v2.2h-2.2zM483.8 166.3h2.2v2.2h-2.2zM492.0 183.9h2.2v2.2h-2.2zM500.2 187.2h2.2v2.2h-2.2zM508.4 189.7h2.2v2.2h-2.2zM516.5 195.6h2.2v2.2h-2.2zM524.7 207.2h2.2v2.2h-2.2zM532.9 195.6h2.2v2.2h-2.2zM541.0 189.7h2.2v2.2h-2.2zM549.2 194.7h2.2v2.2h-2.2zM557.4 197.2h2.2v2.2h-2.2zM565.6 185.6h2.2v2.2h-2.2zM573.7 185.6h2.2v2.2h-2.2zM581.9 190.6h2.2v2.2h-2.2z" fill="#22d222" stroke="none"/>
<polyline points="60.0,441.9 68.2,441.9 76.3,437.0 84.5,441.9 92.7,435.1 100.9,440.5 109.0,441.9 117.2,441.9 125.4,441.9 133.5,441.9 141.7,441.9 149.9,441.9 158.1,441.9 166.2,441.9 174.4,441.9 182.6,441.9 190.8,440.8 198.9,441.9 207.1,441.9 215.3,441.9 223.4,441.9 231.6,441.9 239.8,441.9 248.0,441.9 256.1,427.0 264.3,441.9 272.5,395.0 280.6,285.3 288.8,395.0 297.0,438.0 305.2,441.9 313.3,441.9 321.5,441.9 329.7,441.9 337.8,441.2 346.0,441.9 354.2,441.9 362.4,441.9 370.5,441.9 378.7,410.3 386.9,441.9 395.0,310.8 403.2,305.8 411.4,430.0 419.6,441.9 427.7,436.4 435.9,441.9 444.1,438.9 452.2,441.7 460.4,440.2 468.6,441.3 476.8,432.0 484.9,396.0 493.1,428.0 501.3,425.0 509.5,392.0 517.6,430.0 525.8,440.1 534.0,441.9 542.1,424.3 550.3,434.1 558.5,441.9 566.7,441.9 574.8,441.9 583.0,441.9" stroke="#22d222" stroke-width="1.0"/>
<path d="M75.2 435.9h2.2v2.2h-2.2zM91.6 434.0h2.2v2.2h-2.2zM99.8 439.4h2.2v2.2h-2.2zM189.7 439.7h2.2v2.2h-2.2zM255.0 425.9h2.2v2.2h-2.2zM271.4 393.9h2.2v2.2h-2.2zM279.5 284.2h2.2v2.2h-2.2zM287.7 393.9h2.2v2.2h-2.2zM295.9 436.9h2.2v2.2h-2.2zM336.7 440.1h2.2v2.2h-2.2zM377.6 409.2h2.2v2.2h-2.2zM393.9 309.7h2.2v2.2h-2.2zM402.1 304.7h2.2v2.2h-2.2zM410.3 428.9h2.2v2.2h-2.2zM426.6 435.3h2.2v2.2h-2.2zM443.0 437.8h2.2v2.2h-2.2zM459.3 439.1h2.2v2.2h-2.2zM467.5 440.2h2.2v2.2h-2.2zM475.7 430.9h2.2v2.2h-2.2zM483.8 394.9h2.2v2.2h-2.2zM492.0 426.9h2.2v2.2h-2.2zM500.2 423.9h2.2v2.2h-2.2zM508.4 390.9h2.2v2.2h-2.2zM516.5 428.9h2.2v2.2h-2.2zM524.7 439.0h2.2v2.2h-2.2zM541.0 423.2h2.2v2.2h-2.2zM549.2 433.0h2.2v2.2h-2.2z" fill="#22d222" stroke="none"/>
<polyline points="60.0,112.8 68.2,122.0 76.3,120.8 84.5,122.2 92.7,127.6 100.9,132.5 109.0,132.1 117.2,133.8 125.4,139.9 133.5,142.2 141.7,131.6 149.9,119.9 158.1,115.9 166.2,111.2 174.4,105.6 182.6,100.5 190.8,102.2 198.9,105.0 207.1,101.3 215.3,96.7 223.4,98.7 231.6,103.9 239.8,98.0 248.0,120.0 256.1,150.0 264.3,160.0 272.5,150.8 280.6,148.3 288.8,153.9 297.0,174.8 305.2,158.7 313.3,149.3 321.5,147.3 329.7,147.3 337.8,131.1 346.0,131.1 354.2,121.4 362.4,122.9 370.5,112.6 378.7,124.9 386.9,129.3 395.0,137.0 403.2,135.1 411.4,141.6 419.6,143.4 427.7,142.9 435.9,129.0 444.1,126.7 452.2,125.0 460.4,127.5 468.6,117.5 476.8,116.0 484.9,116.0 493.1,120.0 501.3,130.0 509.5,122.5 517.6,122.5 525.8,124.0 534.0,111.7 542.1,110.8 550.3,108.3 558.5,117.5 566.7,130.0 574.8,140.0 583.0,151.7" stroke="#12d068" stroke-width="1.0"/>
<path d="M91.6 126.5h2.2v2.2h-2.2zM99.8 131.4h2.2v2.2h-2.2zM107.9 131.0h2.2v2.2h-2.2zM116.1 132.7h2.2v2.2h-2.2zM124.3 138.8h2.2v2.2h-2.2zM132.4 141.1h2.2v2.2h-2.2zM140.6 130.5h2.2v2.2h-2.2zM148.8 118.8h2.2v2.2h-2.2zM157.0 114.8h2.2v2.2h-2.2zM165.1 110.1h2.2v2.2h-2.2zM173.3 104.5h2.2v2.2h-2.2zM181.5 99.4h2.2v2.2h-2.2zM189.7 101.1h2.2v2.2h-2.2zM197.8 103.9h2.2v2.2h-2.2zM206.0 100.2h2.2v2.2h-2.2zM214.2 95.6h2.2v2.2h-2.2zM222.3 97.6h2.2v2.2h-2.2zM230.5 102.8h2.2v2.2h-2.2zM238.7 96.9h2.2v2.2h-2.2zM246.9 118.9h2.2v2.2h-2.2zM255.0 148.9h2.2v2.2h-2.2zM263.2 158.9h2.2v2.2h-2.2zM271.4 149.7h2.2v2.2h-2.2zM279.5 147.2h2.2v2.2h-2.2zM287.7 152.8h2.2v2.2h-2.2zM295.9 173.7h2.2v2.2h-2.2zM304.1 157.6h2.2v2.2h-2.2zM312.2 148.2h2.2v2.2h-2.2zM320.4 146.2h2.2v2.2h-2.2zM328.6 146.2h2.2v2.2h-2.2zM336.7 130.0h2.2v2.2h-2.2zM344.9 130.0h2.2v2.2h-2.2zM353.1 120.3h2.2v2.2h-2.2zM361.3 121.8h2.2v2.2h-2.2zM369.4 111.5h2.2v2.2h-2.2zM377.6 123.8h2.2v2.2h-2.2zM385.8 128.2h2.2v2.2h-2.2zM393.9 135.9h2.2v2.2h-2.2zM402.1 134.0h2.2v2.2h-2.2zM410.3 140.5h2.2v2.2h-2.2zM418.5 142.3h2.2v2.2h-2.2zM426.6 141.8h2.2v2.2h-2.2zM434.8 127.9h2.2v2.2h-2.2zM443.0 125.6h2.2v2.2h-2.2zM451.1 123.9h2.2v2.2h-2.2zM459.3 126.4h2.2v2.2h-2.2zM467.5 116.4h2.2v2.2h-2.2zM475.7 114.9h2.2v2.2h-2.2zM483.8 114.9h2.2v2.2h-2.2zM492.0 118.9h2.2v2.2h-2.2zM500.2 128.9h2.2v2.2h-2.2zM508.4 121.4h2.2v2.2h-2.2zM516.5 121.4h2.2v2.2h-2.2zM524.7 122.9h2.2v2.2h-2.2zM532.9 110.6h2.2v2.2h-2.2zM541.0 109.7h2.2v2.2h-2.2zM549.2 107.2h2.2v2.2h-2.2zM557.4 116.4h2.2v2.2h-2.2zM565.6 128.9h2.2v2.2h-2.2zM573.7 138.9h2.2v2.2h-2.2zM581.9 150.6h2.2v2.2h-2.2z" fill="#12d068" stroke="none"/>
<polyline points="60.0,441.9 68.2,441.9 76.3,434.0 84.5,437.0 92.7,441.9 100.9,441.9 109.0,441.9 117.2,430.5 125.4,441.9 133.5,441.9 141.7,441.9 149.9,441.9 158.1,441.5 166.2,441.9 174.4,441.9 182.6,441.9 190.8,441.9 198.9,441.9 207.1,441.9 215.3,441.9 223.4,441.9 231.6,441.9 239.8,441.9 248.0,441.9 256.1,441.9 264.3,440.6 272.5,441.6 280.6,398.2 288.8,441.9 297.0,440.1 305.2,437.0 313.3,440.3 321.5,441.9 329.7,441.9 337.8,441.3 346.0,441.4 354.2,441.9 362.4,441.9 370.5,441.9 378.7,441.9 386.9,420.1 395.0,395.0 403.2,410.0 411.4,425.0 419.6,435.5 427.7,437.1 435.9,441.9 444.1,425.0 452.2,440.4 460.4,441.9 468.6,441.9 476.8,441.4 484.9,441.9 493.1,441.9 501.3,441.9 509.5,398.0 517.6,428.0 525.8,427.5 534.0,441.4 542.1,429.2 550.3,441.9 558.5,441.9 566.7,441.9 574.8,441.9 583.0,441.9" stroke="#12d068" stroke-width="1.0"/>
<path d="M75.2 432.9h2.2v2.2h-2.2zM83.4 435.9h2.2v2.2h-2.2zM116.1 429.4h2.2v2.2h-2.2zM157.0 440.4h2.2v2.2h-2.2zM263.2 439.5h2.2v2.2h-2.2zM279.5 397.1h2.2v2.2h-2.2zM295.9 439.0h2.2v2.2h-2.2zM304.1 435.9h2.2v2.2h-2.2zM312.2 439.2h2.2v2.2h-2.2zM336.7 440.2h2.2v2.2h-2.2zM344.9 440.3h2.2v2.2h-2.2zM385.8 419.0h2.2v2.2h-2.2zM393.9 393.9h2.2v2.2h-2.2zM402.1 408.9h2.2v2.2h-2.2zM410.3 423.9h2.2v2.2h-2.2zM418.5 434.4h2.2v2.2h-2.2zM426.6 436.0h2.2v2.2h-2.2zM443.0 423.9h2.2v2.2h-2.2zM451.1 439.3h2.2v2.2h-2.2zM475.7 440.3h2.2v2.2h-2.2zM508.4 396.9h2.2v2.2h-2.2zM516.5 426.9h2.2v2.2h-2.2zM524.7 426.4h2.2v2.2h-2.2zM532.9 440.3h2.2v2.2h-2.2zM541.0 428.1h2.2v2.2h-2.2z" fill="#12d068" stroke="none"/>
<polyline points="60.0,112.8 68.2,121.5 76.3,120.8 84.5,121.9 92.7,129.1 100.9,133.5 109.0,134.7 117.2,138.1 125.4,143.2 133.5,141.8 141.7,134.3 149.9,125.1 158.1,121.3 166.2,116.0 174.4,106.9 182.6,103.2 190.8,103.6 198.9,104.5 207.1,102.1 215.3,94.7 223.4,98.3 231.6,104.6 239.8,96.0 248.0,125.0 256.1,158.0 264.3,168.0 272.5,163.0 280.6,168.0 288.8,158.3 297.0,162.8 305.2,155.5 313.3,154.1 321.5,154.0 329.7,152.9 337.8,143.9 346.0,123.6 354.2,131.6 362.4,138.2 370.5,132.0 378.7,142.7 386.9,144.6 395.0,154.1 403.2,155.2 411.4,166.4 419.6,175.1 427.7,162.0 435.9,161.3 444.1,168.9 452.2,181.5 460.4,182.4 468.6,149.8 476.8,159.7 484.9,160.9 493.1,143.7 501.3,141.7 509.5,138.2 517.6,143.8 525.8,150.4 534.0,157.3 542.1,154.6 550.3,166.5 558.5,190.5 566.7,186.0 574.8,183.5 583.0,178.8" stroke="#10d0aa" stroke-width="1.0"/>
<path d="M91.6 128.0h2.2v2.2h-2.2zM99.8 132.4h2.2v2.2h-2.2zM107.9 133.6h2.2v2.2h-2.2zM116.1 137.0h2.2v2.2h-2.2zM124.3 142.1h2.2v2.2h-2.2zM132.4 140.7h2.2v2.2h-2.2zM140.6 133.2h2.2v2.2h-2.2zM148.8 124.0h2.2v2.2h-2.2zM157.0 120.2h2.2v2.2h-2.2zM165.1 114.9h2.2v2.2h-2.2zM173.3 105.8h2.2v2.2h-2.2zM181.5 102.1h2.2v2.2h-2.2zM189.7 102.5h2.2v2.2h-2.2zM197.8 103.4h2.2v2.2h-2.2zM206.0 101.0h2.2v2.2h-2.2zM214.2 93.6h2.2v2.2h-2.2zM222.3 97.2h2.2v2.2h-2.2zM230.5 103.5h2.2v2.2h-2.2zM238.7 94.9h2.2v2.2h-2.2zM246.9 123.9h2.2v2.2h-2.2zM255.0 156.9h2.2v2.2h-2.2zM263.2 166.9h2.2v2.2h-2.2zM271.4 161.9h2.2v2.2h-2.2zM279.5 166.9h2.2v2.2h-2.2zM287.7 157.2h2.2v2.2h-2.2zM295.9 161.7h2.2v2.2h-2.2zM304.1 154.4h2.2v2.2h-2.2zM312.2 153.0h2.2v2.2h-2.2zM320.4 152.9h2.2v2.2h-2.2zM328.6 151.8h2.2v2.2h-2.2zM336.7 142.8h2.2v2.2h-2.2zM344.9 122.5h2.2v2.2h-2.2zM353.1 130.5h2.2v2.2h-2.2zM361.3 137.1h2.2v2.2h-2.2zM369.4 130.9h2.2v2.2h-2.2zM377.6 141.6h2.2v2.2h-2.2zM385.8 143.5h2.2v2.2h-2.2zM393.9 153.0h2.2v2.2h-2.2zM402.1 154.1h2.2v2.2h-2.2zM410.3 165.3h2.2v2.2h-2.2zM418.5 174.0h2.2v2.2h-2.2zM426.6 160.9h2.2v2.2h-2.2zM434.8 160.2h2.2v2.2h-2.2zM443.0 167.8h2.2v2.2h-2.2zM451.1 180.4h2.2v2.2h-2.2zM459.3 181.3h2.2v2.2h-2.2zM467.5 148.7h2.2v2.2h-2.2zM475.7 158.6h2.2v2.2h-2.2zM483.8 159.8h2.2v2.2h-2.2zM492.0 142.6h2.2v2.2h-2.2zM500.2 140.6h2.2v2.2h-2.2zM508.4 137.1h2.2v2.2h-2.2zM516.5 142.7h2.2v2.2h-2.2zM524.7 149.3h2.2v2.2h-2.2zM532.9 156.2h2.2v2.2h-2.2zM541.0 153.5h2.2v2.2h-2.2zM549.2 165.4h2.2v2.2h-2.2zM557.4 189.4h2.2v2.2h-2.2zM565.6 184.9h2.2v2.2h-2.2zM573.7 182.4h2.2v2.2h-2.2zM581.9 177.7h2.2v2.2h-2.2z" fill="#10d0aa" stroke="none"/>
<polyline points="60.0,441.9 68.2,441.9 76.3,441.9 84.5,439.6 92.7,439.6 100.9,441.9 109.0,441.2 117.2,441.9 125.4,441.9 133.5,441.9 141.7,441.9 149.9,441.9 158.1,440.8 166.2,441.9 174.4,441.9 182.6,441.9 190.8,440.8 198.9,441.9 207.1,441.9 215.3,441.9 223.4,441.9 231.6,441.9 239.8,441.9 248.0,440.8 256.1,425.0 264.3,430.0 272.5,433.6 280.6,441.9 288.8,428.3 297.0,441.9 305.2,439.3 313.3,439.6 321.5,441.9 329.7,441.9 337.8,441.9 346.0,441.9 354.2,441.9 362.4,441.9 370.5,438.6 378.7,441.9 386.9,441.9 395.0,414.2 403.2,385.0 411.4,405.0 419.6,420.0 427.7,430.0 435.9,436.4 444.1,436.4 452.2,441.9 460.4,441.9 468.6,441.9 476.8,431.2 484.9,437.8 493.1,439.8 501.3,440.9 509.5,440.5 517.6,441.9 525.8,441.0 534.0,433.9 542.1,438.4 550.3,437.4 558.5,441.9 566.7,438.1 574.8,435.3 583.0,437.9" stroke="#10d0aa" stroke-width="1.0"/>
<path d="M83.4 438.5h2.2v2.2h-2.2zM91.6 438.5h2.2v2.2h-2.2zM107.9 440.1h2.2v2.2h-2.2zM157.0 439.7h2.2v2.2h-2.2zM189.7 439.7h2.2v2.2h-2.2zM246.9 439.7h2.2v2.2h-2.2zM255.0 423.9h2.2v2.2h-2.2zM263.2 428.9h2.2v2.2h-2.2zM271.4 432.5h2.2v2.2h-2.2zM287.7 427.2h2.2v2.2h-2.2zM304.1 438.2h2.2v2.2h-2.2zM312.2 438.5h2.2v2.2h-2.2zM369.4 437.5h2.2v2.2h-2.2zM393.9 413.1h2.2v2.2h-2.2zM402.1 383.9h2.2v2.2h-2.2zM410.3 403.9h2.2v2.2h-2.2zM418.5 418.9h2.2v2.2h-2.2zM426.6 428.9h2.2v2.2h-2.2zM434.8 435.3h2.2v2.2h-2.2zM443.0 435.3h2.2v2.2h-2.2zM475.7 430.1h2.2v2.2h-2.2zM483.8 436.7h2.2v2.2h-2.2zM492.0 438.7h2.2v2.2h-2.2zM500.2 439.8h2.2v2.2h-2.2zM508.4 439.4h2.2v2.2h-2.2zM524.7 439.9h2.2v2.2h-2.2zM532.9 432.8h2.2v2.2h-2.2zM541.0 437.3h2.2v2.2h-2.2zM549.2 436.3h2.2v2.2h-2.2zM565.6 437.0h2.2v2.2h-2.2zM573.7 434.2h2.2v2.2h-2.2zM581.9 436.8h2.2v2.2h-2.2z" fill="#10d0aa" stroke="none"/>
<polyline points="60.0,111.9 68.2,120.8 76.3,120.1 84.5,121.8 92.7,128.3 100.9,133.3 109.0,132.8 117.2,135.9 125.4,142.9 133.5,143.1 141.7,136.8 149.9,128.6 158.1,121.4 166.2,115.9 174.4,106.6 182.6,100.1 190.8,103.2 198.9,105.7 207.1,104.4 215.3,98.7 223.4,108.0 231.6,118.3 239.8,103.3 248.0,118.0 256.1,124.8 264.3,135.3 272.5,137.3 280.6,133.4 288.8,146.9 297.0,156.9 305.2,153.2 313.3,149.3 321.5,147.3 329.7,147.3 337.8,144.6 346.0,147.3 354.2,144.1 362.4,143.0 370.5,136.0 378.7,125.1 386.9,144.4 395.0,173.7 403.2,174.1 411.4,185.0 419.6,193.0 427.7,190.0 435.9,174.1 444.1,163.0 452.2,171.4 460.4,155.6 468.6,140.3 476.8,135.6 484.9,150.1 493.1,163.3 501.3,137.0 509.5,138.2 517.6,143.8 525.8,150.4 534.0,145.2 542.1,146.3 550.3,149.8 558.5,151.7 566.7,124.0 574.8,110.8 583.0,126.7" stroke="#14c4d6" stroke-width="1.0"/>
<path d="M91.6 127.2h2.2v2.2h-2.2zM99.8 132.2h2.2v2.2h-2.2zM107.9 131.7h2.2v2.2h-2.2zM116.1 134.8h2.2v2.2h-2.2zM124.3 141.8h2.2v2.2h-2.2zM132.4 142.0h2.2v2.2h-2.2zM140.6 135.7h2.2v2.2h-2.2zM148.8 127.5h2.2v2.2h-2.2zM157.0 120.3h2.2v2.2h-2.2zM165.1 114.8h2.2v2.2h-2.2zM173.3 105.5h2.2v2.2h-2.2zM181.5 99.0h2.2v2.2h-2.2zM189.7 102.1h2.2v2.2h-2.2zM197.8 104.6h2.2v2.2h-2.2zM206.0 103.3h2.2v2.2h-2.2zM214.2 97.6h2.2v2.2h-2.2zM222.3 106.9h2.2v2.2h-2.2zM230.5 117.2h2.2v2.2h-2.2zM238.7 102.2h2.2v2.2h-2.2zM246.9 116.9h2.2v2.2h-2.2zM255.0 123.7h2.2v2.2h-2.2zM263.2 134.2h2.2v2.2h-2.2zM271.4 136.2h2.2v2.2h-2.2zM279.5 132.3h2.2v2.2h-2.2zM287.7 145.8h2.2v2.2h-2.2zM295.9 155.8h2.2v2.2h-2.2zM304.1 152.1h2.2v2.2h-2.2zM312.2 148.2h2.2v2.2h-2.2zM320.4 146.2h2.2v2.2h-2.2zM328.6 146.2h2.2v2.2h-2.2zM336.7 143.5h2.2v2.2h-2.2zM344.9 146.2h2.2v2.2h-2.2zM353.1 143.0h2.2v2.2h-2.2zM361.3 141.9h2.2v2.2h-2.2zM369.4 134.9h2.2v2.2h-2.2zM377.6 124.0h2.2v2.2h-2.2zM385.8 143.3h2.2v2.2h-2.2zM393.9 172.6h2.2v2.2h-2.2zM402.1 173.0h2.2v2.2h-2.2zM410.3 183.9h2.2v2.2h-2.2zM418.5 191.9h2.2v2.2h-2.2zM426.6 188.9h2.2v2.2h-2.2zM434.8 173.0h2.2v2.2h-2.2zM443.0 161.9h2.2v2.2h-2.2zM451.1 170.3h2.2v2.2h-2.2zM459.3 154.5h2.2v2.2h-2.2zM467.5 139.2h2.2v2.2h-2.2zM475.7 134.5h2.2v2.2h-2.2zM483.8 149.0h2.2v2.2h-2.2zM492.0 162.2h2.2v2.2h-2.2zM500.2 135.9h2.2v2.2h-2.2zM508.4 137.1h2.2v2.2h-2.2zM516.5 142.7h2.2v2.2h-2.2zM524.7 149.3h2.2v2.2h-2.2zM532.9 144.1h2.2v2.2h-2.2zM541.0 145.2h2.2v2.2h-2.2zM549.2 148.7h2.2v2.2h-2.2zM557.4 150.6h2.2v2.2h-2.2zM565.6 122.9h2.2v2.2h-2.2zM573.7 109.7h2.2v2.2h-2.2zM581.9 125.6h2.2v2.2h-2.2z" fill="#14c4d6" stroke="none"/>
<polyline points="60.0,441.9 68.2,441.9 76.3,438.7 84.5,441.9 92.7,437.0 100.9,441.9 109.0,441.9 117.2,420.4 125.4,441.9 133.5,441.9 141.7,441.9 149.9,441.9 158.1,440.8 166.2,441.9 174.4,441.9 182.6,441.9 190.8,441.6 198.9,441.9 207.1,441.9 215.3,441.9 223.4,441.9 231.6,441.9 239.8,441.9 248.0,434.9 256.1,441.9 264.3,440.1 272.5,441.9 280.6,441.9 288.8,426.0 297.0,440.4 305.2,434.0 313.3,441.6 321.5,441.9 329.7,441.9 337.8,441.9 346.0,441.6 354.2,441.9 362.4,441.9 370.5,441.2 378.7,430.1 386.9,425.0 395.0,205.8 403.2,400.0 411.4,436.0 419.6,441.9 427.7,429.6 435.9,441.9 444.1,433.9 452.2,437.3 460.4,441.9 468.6,438.9 476.8,441.9 484.9,439.2 493.1,441.9 501.3,441.5 509.5,441.9 517.6,441.9 525.8,436.7 534.0,415.0 542.1,387.3 550.3,425.0 558.5,420.0 566.7,432.0 574.8,427.3 583.0,441.2" stroke="#14c4d6" stroke-width="1.0"/>
<path d="M75.2 437.6h2.2v2.2h-2.2zM91.6 435.9h2.2v2.2h-2.2zM116.1 419.3h2.2v2.2h-2.2zM157.0 439.7h2.2v2.2h-2.2zM189.7 440.5h2.2v2.2h-2.2zM246.9 433.8h2.2v2.2h-2.2zM263.2 439.0h2.2v2.2h-2.2zM287.7 424.9h2.2v2.2h-2.2zM295.9 439.3h2.2v2.2h-2.2zM304.1 432.9h2.2v2.2h-2.2zM369.4 440.1h2.2v2.2h-2.2zM377.6 429.0h2.2v2.2h-2.2zM385.8 423.9h2.2v2.2h-2.2zM393.9 204.7h2.2v2.2h-2.2zM402.1 398.9h2.2v2.2h-2.2zM410.3 434.9h2.2v2.2h-2.2zM426.6 428.5h2.2v2.2h-2.2zM443.0 432.8h2.2v2.2h-2.2zM451.1 436.2h2.2v2.2h-2.2zM467.5 437.8h2.2v2.2h-2.2zM483.8 438.1h2.2v2.2h-2.2zM500.2 440.4h2.2v2.2h-2.2zM524.7 435.6h2.2v2.2h-2.2zM532.9 413.9h2.2v2.2h-2.2zM541.0 386.2h2.2v2.2h-2.2zM549.2 423.9h2.2v2.2h-2.2zM557.4 418.9h2.2v2.2h-2.2zM565.6 430.9h2.2v2.2h-2.2zM573.7 426.2h2.2v2.2h-2.2zM581.9 440.1h2.2v2.2h-2.2z" fill="#14c4d6" stroke="none"/>
<polyline points="60.0,113.3 68.2,121.8 76.3,120.6 84.5,122.2 92.7,128.4 100.9,133.3 109.0,134.1 117.2,136.3 125.4,142.7 133.5,141.9 141.7,135.8 149.9,126.2 158.1,119.9 166.2,117.1 174.4,115.1 182.6,108.9 190.8,110.9 198.9,112.3 207.1,109.9 215.3,101.9 223.4,104.1 231.6,110.5 239.8,100.0 248.0,128.0 256.1,155.0 264.3,165.0 272.5,160.0 280.6,152.6 288.8,155.8 297.0,162.5 305.2,157.6 313.3,152.1 321.5,154.5 329.7,148.2 337.8,131.1 346.0,123.6 354.2,130.3 362.4,131.9 370.5,112.8 378.7,116.9 386.9,129.3 395.0,150.7 403.2,135.1 411.4,138.4 419.6,145.6 427.7,176.8 435.9,172.3 444.1,161.5 452.2,169.6 460.4,189.3 468.6,171.7 476.8,155.7 484.9,170.2 493.1,174.4 501.3,174.1 509.5,160.0 517.6,191.9 525.8,207.3 534.0,195.8 542.1,190.1 550.3,162.1 558.5,170.5 566.7,157.6 574.8,159.0 583.0,169.4" stroke="#22a0ea" stroke-width="1.0"/>
<path d="M91.6 127.3h2.2v2.2h-2.2zM99.8 132.2h2.2v2.2h-2.2zM107.9 133.0h2.2v2.2h-2.2zM116.1 135.2h2.2v2.2h-2.2zM124.3 141.6h2.2v2.2h-2.2zM132.4 140.8h2.2v2.2h-2.2zM140.6 134.7h2.2v2.2h-2.2zM148.8 125.1h2.2v2.2h-2.2zM157.0 118.8h2.2v2.2h-2.2zM165.1 116.0h2.2v2.2h-2.2zM173.3 114.0h2.2v2.2h-2.2zM181.5 107.8h2.2v2.2h-2.2zM189.7 109.8h2.2v2.2h-2.2zM197.8 111.2h2.2v2.2h-2.2zM206.0 108.8h2.2v2.2h-2.2zM214.2 100.8h2.2v2.2h-2.2zM222.3 103.0h2.2v2.2h-2.2zM230.5 109.4h2.2v2.2h-2.2zM238.7 98.9h2.2v2.2h-2.2zM246.9 126.9h2.2v2.2h-2.2zM255.0 153.9h2.2v2.2h-2.2zM263.2 163.9h2.2v2.2h-2.2zM271.4 158.9h2.2v2.2h-2.2zM279.5 151.5h2.2v2.2h-2.2zM287.7 154.7h2.2v2.2h-2.2zM295.9 161.4h2.2v2.2h-2.2zM304.1 156.5h2.2v2.2h-2.2zM312.2 151.0h2.2v2.2h-2.2zM320.4 153.4h2.2v2.2h-2.2zM328.6 147.1h2.2v2.2h-2.2zM336.7 130.0h2.2v2.2h-2.2zM344.9 122.5h2.2v2.2h-2.2zM353.1 129.2h2.2v2.2h-2.2zM361.3 130.8h2.2v2.2h-2.2zM369.4 111.7h2.2v2.2h-2.2zM377.6 115.8h2.2v2.2h-2.2zM385.8 128.2h2.2v2.2h-2.2zM393.9 149.6h2.2v2.2h-2.2zM402.1 134.0h2.2v2.2h-2.2zM410.3 137.3h2.2v2.2h-2.2zM418.5 144.5h2.2v2.2h-2.2zM426.6 175.7h2.2v2.2h-2.2zM434.8 171.2h2.2v2.2h-2.2zM443.0 160.4h2.2v2.2h-2.2zM451.1 168.5h2.2v2.2h-2.2zM459.3 188.2h2.2v2.2h-2.2zM467.5 170.6h2.2v2.2h-2.2zM475.7 154.6h2.2v2.2h-2.2zM483.8 169.1h2.2v2.2h-2.2zM492.0 173.3h2.2v2.2h-2.2zM500.2 173.0h2.2v2.2h-2.2zM508.4 158.9h2.2v2.2h-2.2zM516.5 190.8h2.2v2.2h-2.2zM524.7 206.2h2.2v2.2h-2.2zM532.9 194.7h2.2v2.2h-2.2zM541.0 189.0h2.2v2.2h-2.2zM549.2 161.0h2.2v2.2h-2.2zM557.4 169.4h2.2v2.2h-2.2zM565.6 156.5h2.2v2.2h-2.2zM573.7 157.9h2.2v2.2h-2.2zM581.9 168.3h2.2v2.2h-2.2z" fill="#22a0ea" stroke="none"/>
<polyline points="60.0,441.9 68.2,441.9 76.3,440.4 84.5,438.6 92.7,441.9 100.9,441.9 109.0,441.9 117.2,416.2 125.4,441.9 133.5,441.9 141.7,441.9 149.9,441.9 158.1,439.5 166.2,441.9 174.4,441.9 182.6,441.9 190.8,441.7 198.9,441.9 207.1,441.9 215.3,441.9 223.4,441.9 231.6,441.9 239.8,440.0 248.0,395.0 256.1,305.0 264.3,440.0 272.5,427.5 280.6,436.3 288.8,441.5 297.0,437.5 305.2,441.9 313.3,441.9 321.5,441.9 329.7,441.9 337.8,441.9 346.0,430.0 354.2,441.9 362.4,441.9 370.5,436.8 378.7,441.9 386.9,441.9 395.0,441.9 403.2,423.3 411.4,422.2 419.6,441.9 427.7,428.7 435.9,440.9 444.1,432.1 452.2,432.6 460.4,441.9 468.6,439.7 476.8,438.9 484.9,441.9 493.1,441.9 501.3,430.0 509.5,380.6 517.6,428.0 525.8,441.9 534.0,431.2 542.1,441.9 550.3,441.9 558.5,418.0 566.7,425.0 574.8,431.0 583.0,441.9" stroke="#22a0ea" stroke-width="1.0"/>
<path d="M75.2 439.3h2.2v2.2h-2.2zM83.4 437.5h2.2v2.2h-2.2zM116.1 415.1h2.2v2.2h-2.2zM157.0 438.4h2.2v2.2h-2.2zM238.7 438.9h2.2v2.2h-2.2zM246.9 393.9h2.2v2.2h-2.2zM255.0 303.9h2.2v2.2h-2.2zM263.2 438.9h2.2v2.2h-2.2zM271.4 426.4h2.2v2.2h-2.2zM279.5 435.2h2.2v2.2h-2.2zM287.7 440.4h2.2v2.2h-2.2zM295.9 436.4h2.2v2.2h-2.2zM344.9 428.9h2.2v2.2h-2.2zM369.4 435.7h2.2v2.2h-2.2zM402.1 422.2h2.2v2.2h-2.2zM410.3 421.1h2.2v2.2h-2.2zM426.6 427.6h2.2v2.2h-2.2zM434.8 439.8h2.2v2.2h-2.2zM443.0 431.0h2.2v2.2h-2.2zM451.1 431.5h2.2v2.2h-2.2zM467.5 438.6h2.2v2.2h-2.2zM475.7 437.8h2.2v2.2h-2.2zM500.2 428.9h2.2v2.2h-2.2zM508.4 379.5h2.2v2.2h-2.2zM516.5 426.9h2.2v2.2h-2.2zM532.9 430.1h2.2v2.2h-2.2zM557.4 416.9h2.2v2.2h-2.2zM565.6 423.9h2.2v2.2h-2.2zM573.7 429.9h2.2v2.2h-2.2z" fill="#22a0ea" stroke="none"/>
<polyline points="60.0,112.9 68.2,121.3 76.3,120.7 84.5,122.0 92.7,128.6 100.9,132.4 109.0,133.2 117.2,133.8 125.4,142.8 133.5,143.2 141.7,138.9 149.9,133.6 158.1,127.6 166.2,124.0 174.4,115.0 182.6,106.3 190.8,106.5 198.9,106.7 207.1,100.3 215.3,95.3 223.4,94.0 231.6,97.3 239.8,88.8 248.0,95.6 256.1,113.1 264.3,132.7 272.5,136.9 280.6,133.3 288.8,146.9 297.0,170.0 305.2,171.4 313.3,168.7 321.5,171.3 329.7,167.7 337.8,164.4 346.0,150.8 354.2,136.8 362.4,128.3 370.5,105.8 378.7,100.0 386.9,110.0 395.0,116.7 403.2,119.0 411.4,133.0 419.6,150.0 427.7,163.1 435.9,160.3 444.1,164.6 452.2,161.2 460.4,160.2 468.6,164.6 476.8,154.8 484.9,153.6 493.1,156.6 501.3,131.0 509.5,125.0 517.6,119.0 525.8,129.0 534.0,134.0 542.1,142.5 550.3,143.3 558.5,135.0 566.7,122.5 574.8,115.8 583.0,120.0" stroke="#2474ff" stroke-width="1.0"/>
<path d="M91.6 127.5h2.2v2.2h-2.2zM99.8 131.3h2.2v2.2h-2.2zM107.9 132.1h2.2v2.2h-2.2zM116.1 132.7h2.2v2.2h-2.2zM124.3 141.7h2.2v2.2h-2.2zM132.4 142.1h2.2v2.2h-2.2zM140.6 137.8h2.2v2.2h-2.2zM148.8 132.5h2.2v2.2h-2.2zM157.0 126.5h2.2v2.2h-2.2zM165.1 122.9h2.2v2.2h-2.2zM173.3 113.9h2.2v2.2h-2.2zM181.5 105.2h2.2v2.2h-2.2zM189.7 105.4h2.2v2.2h-2.2zM197.8 105.6h2.2v2.2h-2.2zM206.0 99.2h2.2v2.2h-2.2zM214.2 94.2h2.2v2.2h-2.2zM222.3 92.9h2.2v2.2h-2.2zM230.5 96.2h2.2v2.2h-2.2zM238.7 87.7h2.2v2.2h-2.2zM246.9 94.5h2.2v2.2h-2.2zM255.0 112.0h2.2v2.2h-2.2zM263.2 131.6h2.2v2.2h-2.2zM271.4 135.8h2.2v2.2h-2.2zM279.5 132.2h2.2v2.2h-2.2zM287.7 145.8h2.2v2.2h-2.2zM295.9 168.9h2.2v2.2h-2.2zM304.1 170.3h2.2v2.2h-2.2zM312.2 167.6h2.2v2.2h-2.2zM320.4 170.2h2.2v2.2h-2.2zM328.6 166.6h2.2v2.2h-2.2zM336.7 163.3h2.2v2.2h-2.2zM344.9 149.7h2.2v2.2h-2.2zM353.1 135.7h2.2v2.2h-2.2zM361.3 127.2h2.2v2.2h-2.2zM369.4 104.7h2.2v2.2h-2.2zM377.6 98.9h2.2v2.2h-2.2zM385.8 108.9h2.2v2.2h-2.2zM393.9 115.6h2.2v2.2h-2.2zM402.1 117.9h2.2v2.2h-2.2zM410.3 131.9h2.2v2.2h-2.2zM418.5 148.9h2.2v2.2h-2.2zM426.6 162.0h2.2v2.2h-2.2zM434.8 159.2h2.2v2.2h-2.2zM443.0 163.5h2.2v2.2h-2.2zM451.1 160.1h2.2v2.2h-2.2zM459.3 159.1h2.2v2.2h-2.2zM467.5 163.5h2.2v2.2h-2.2zM475.7 153.7h2.2v2.2h-2.2zM483.8 152.5h2.2v2.2h-2.2zM492.0 155.5h2.2v2.2h-2.2zM500.2 129.9h2.2v2.2h-2.2zM508.4 123.9h2.2v2.2h-2.2zM516.5 117.9h2.2v2.2h-2.2zM524.7 127.9h2.2v2.2h-2.2zM532.9 132.9h2.2v2.2h-2.2zM541.0 141.4h2.2v2.2h-2.2zM549.2 142.2h2.2v2.2h-2.2zM557.4 133.9h2.2v2.2h-2.2zM565.6 121.4h2.2v2.2h-2.2zM573.7 114.7h2.2v2.2h-2.2zM581.9 118.9h2.2v2.2h-2.2z" fill="#2474ff" stroke="none"/>
<polyline points="60.0,441.9 68.2,441.9 76.3,439.4 84.5,433.0 92.7,430.8 100.9,438.0 109.0,434.4 117.2,425.8 125.4,441.9 133.5,441.9 141.7,441.9 149.9,441.9 158.1,440.8 166.2,441.9 174.4,441.9 182.6,441.9 190.8,441.9 198.9,441.9 207.1,441.9 215.3,441.9 223.4,441.9 231.6,441.9 239.8,441.9 248.0,352.0 256.1,302.5 264.3,438.0 272.5,441.9 280.6,437.2 288.8,431.0 297.0,439.6 305.2,441.9 313.3,439.6 321.5,441.9 329.7,441.9 337.8,441.9 346.0,421.7 354.2,441.9 362.4,441.9 370.5,429.4 378.7,437.1 386.9,414.2 395.0,425.3 403.2,426.0 411.4,299.7 419.6,430.0 427.7,441.9 435.9,436.5 444.1,433.3 452.2,418.0 460.4,436.0 468.6,440.9 476.8,441.9 484.9,434.7 493.1,440.1 501.3,441.9 509.5,441.9 517.6,427.3 525.8,438.9 534.0,436.5 542.1,441.9 550.3,441.1 558.5,437.2 566.7,430.7 574.8,441.9 583.0,441.9" stroke="#2474ff" stroke-width="1.0"/>
<path d="M75.2 438.3h2.2v2.2h-2.2zM83.4 431.9h2.2v2.2h-2.2zM91.6 429.7h2.2v2.2h-2.2zM99.8 436.9h2.2v2.2h-2.2zM107.9 433.3h2.2v2.2h-2.2zM116.1 424.7h2.2v2.2h-2.2zM157.0 439.7h2.2v2.2h-2.2zM246.9 350.9h2.2v2.2h-2.2zM255.0 301.4h2.2v2.2h-2.2zM263.2 436.9h2.2v2.2h-2.2zM279.5 436.1h2.2v2.2h-2.2zM287.7 429.9h2.2v2.2h-2.2zM295.9 438.5h2.2v2.2h-2.2zM312.2 438.5h2.2v2.2h-2.2zM344.9 420.6h2.2v2.2h-2.2zM369.4 428.3h2.2v2.2h-2.2zM377.6 436.0h2.2v2.2h-2.2zM385.8 413.1h2.2v2.2h-2.2zM393.9 424.2h2.2v2.2h-2.2zM402.1 424.9h2.2v2.2h-2.2zM410.3 298.6h2.2v2.2h-2.2zM418.5 428.9h2.2v2.2h-2.2zM434.8 435.4h2.2v2.2h-2.2zM443.0 432.2h2.2v2.2h-2.2zM451.1 416.9h2.2v2.2h-2.2zM459.3 434.9h2.2v2.2h-2.2zM467.5 439.8h2.2v2.2h-2.2zM483.8 433.6h2.2v2.2h-2.2zM492.0 439.0h2.2v2.2h-2.2zM516.5 426.2h2.2v2.2h-2.2zM524.7 437.8h2.2v2.2h-2.2zM532.9 435.4h2.2v2.2h-2.2zM549.2 440.0h2.2v2.2h-2.2zM557.4 436.1h2.2v2.2h-2.2zM565.6 429.6h2.2v2.2h-2.2z" fill="#2474ff" stroke="none"/>
<polyline points="60.0,112.9 68.2,121.6 76.3,120.4 84.5,122.1 92.7,127.8 100.9,130.6 109.0,131.2 117.2,133.8 125.4,139.7 133.5,139.3 141.7,131.7 149.9,127.2 158.1,120.5 166.2,111.6 174.4,104.7 182.6,100.1 190.8,102.1 198.9,102.9 207.1,100.0 215.3,88.7 223.4,112.5 231.6,117.0 239.8,102.5 248.0,112.0 256.1,126.2 264.3,139.8 272.5,145.6 280.6,145.8 288.8,154.6 297.0,165.6 305.2,153.2 313.3,152.8 321.5,155.6 329.7,160.5 337.8,155.0 346.0,146.7 354.2,168.3 362.4,175.0 370.5,157.5 378.7,153.0 386.9,150.8 395.0,159.6 403.2,148.0 411.4,156.7 419.6,176.9 427.7,196.7 435.9,185.0 444.1,180.0 452.2,185.0 460.4,190.0 468.6,185.0 476.8,177.5 484.9,180.8 493.1,174.9 501.3,158.6 509.5,150.1 517.6,143.8 525.8,150.4 534.0,141.9 542.1,141.4 550.3,144.1 558.5,148.6 566.7,140.7 574.8,138.2 583.0,142.7" stroke="#2846ff" stroke-width="1.0"/>
<path d="M91.6 126.7h2.2v2.2h-2.2zM99.8 129.5h2.2v2.2h-2.2zM107.9 130.1h2.2v2.2h-2.2zM116.1 132.7h2.2v2.2h-2.2zM124.3 138.6h2.2v2.2h-2.2zM132.4 138.2h2.2v2.2h-2.2zM140.6 130.6h2.2v2.2h-2.2zM148.8 126.1h2.2v2.2h-2.2zM157.0 119.4h2.2v2.2h-2.2zM165.1 110.5h2.2v2.2h-2.2zM173.3 103.6h2.2v2.2h-2.2zM181.5 99.0h2.2v2.2h-2.2zM189.7 101.0h2.2v2.2h-2.2zM197.8 101.8h2.2v2.2h-2.2zM206.0 98.9h2.2v2.2h-2.2zM214.2 87.6h2.2v2.2h-2.2zM222.3 111.4h2.2v2.2h-2.2zM230.5 115.9h2.2v2.2h-2.2zM238.7 101.4h2.2v2.2h-2.2zM246.9 110.9h2.2v2.2h-2.2zM255.0 125.1h2.2v2.2h-2.2zM263.2 138.7h2.2v2.2h-2.2zM271.4 144.5h2.2v2.2h-2.2zM279.5 144.7h2.2v2.2h-2.2zM287.7 153.5h2.2v2.2h-2.2zM295.9 164.5h2.2v2.2h-2.2zM304.1 152.1h2.2v2.2h-2.2zM312.2 151.7h2.2v2.2h-2.2zM320.4 154.5h2.2v2.2h-2.2zM328.6 159.4h2.2v2.2h-2.2zM336.7 153.9h2.2v2.2h-2.2zM344.9 145.6h2.2v2.2h-2.2zM353.1 167.2h2.2v2.2h-2.2zM361.3 173.9h2.2v2.2h-2.2zM369.4 156.4h2.2v2.2h-2.2zM377.6 151.9h2.2v2.2h-2.2zM385.8 149.7h2.2v2.2h-2.2zM393.9 158.5h2.2v2.2h-2.2zM402.1 146.9h2.2v2.2h-2.2zM410.3 155.6h2.2v2.2h-2.2zM418.5 175.8h2.2v2.2h-2.2zM426.6 195.6h2.2v2.2h-2.2zM434.8 183.9h2.2v2.2h-2.2zM443.0 178.9h2.2v2.2h-2.2zM451.1 183.9h2.2v2.2h-2.2zM459.3 188.9h2.2v2.2h-2.2zM467.5 183.9h2.2v2.2h-2.2zM475.7 176.4h2.2v2.2h-2.2zM483.8 179.7h2.2v2.2h-2.2zM492.0 173.8h2.2v2.2h-2.2zM500.2 157.5h2.2v2.2h-2.2zM508.4 149.0h2.2v2.2h-2.2zM516.5 142.7h2.2v2.2h-2.2zM524.7 149.3h2.2v2.2h-2.2zM532.9 140.8h2.2v2.2h-2.2zM541.0 140.3h2.2v2.2h-2.2zM549.2 143.0h2.2v2.2h-2.2zM557.4 147.5h2.2v2.2h-2.2zM565.6 139.6h2.2v2.2h-2.2zM573.7 137.1h2.2v2.2h-2.2zM581.9 141.6h2.2v2.2h-2.2z" fill="#2846ff" stroke="none"/>
<polyline points="60.0,441.9 68.2,441.9 76.3,441.9 84.5,441.9 92.7,438.3 100.9,441.9 109.0,441.9 117.2,441.9 125.4,441.9 133.5,441.9 141.7,441.9 149.9,441.9 158.1,441.0 166.2,441.9 174.4,441.9 182.6,441.9 190.8,441.9 198.9,441.9 207.1,441.9 215.3,441.9 223.4,441.9 231.6,441.9 239.8,441.9 248.0,441.9 256.1,440.1 264.3,438.9 272.5,441.9 280.6,425.0 288.8,396.0 297.0,432.0 305.2,440.5 313.3,441.9 321.5,441.9 329.7,441.9 337.8,441.9 346.0,439.0 354.2,441.9 362.4,441.9 370.5,437.6 378.7,417.9 386.9,418.8 395.0,424.3 403.2,441.9 411.4,420.0 419.6,352.5 427.7,407.0 435.9,430.0 444.1,441.9 452.2,441.0 460.4,441.9 468.6,441.9 476.8,440.0 484.9,439.0 493.1,440.3 501.3,441.9 509.5,440.0 517.6,441.9 525.8,438.7 534.0,441.9 542.1,415.0 550.3,396.0 558.5,411.0 566.7,414.0 574.8,430.0 583.0,440.6" stroke="#2846ff" stroke-width="1.0"/>
<path d="M91.6 437.2h2.2v2.2h-2.2zM157.0 439.9h2.2v2.2h-2.2zM255.0 439.0h2.2v2.2h-2.2zM263.2 437.8h2.2v2.2h-2.2zM279.5 423.9h2.2v2.2h-2.2zM287.7 394.9h2.2v2.2h-2.2zM295.9 430.9h2.2v2.2h-2.2zM304.1 439.4h2.2v2.2h-2.2zM344.9 437.9h2.2v2.2h-2.2zM369.4 436.5h2.2v2.2h-2.2zM377.6 416.8h2.2v2.2h-2.2zM385.8 417.7h2.2v2.2h-2.2zM393.9 423.2h2.2v2.2h-2.2zM410.3 418.9h2.2v2.2h-2.2zM418.5 351.4h2.2v2.2h-2.2zM426.6 405.9h2.2v2.2h-2.2zM434.8 428.9h2.2v2.2h-2.2zM451.1 439.9h2.2v2.2h-2.2zM475.7 438.9h2.2v2.2h-2.2zM483.8 437.9h2.2v2.2h-2.2zM492.0 439.2h2.2v2.2h-2.2zM508.4 438.9h2.2v2.2h-2.2zM524.7 437.6h2.2v2.2h-2.2zM541.0 413.9h2.2v2.2h-2.2zM549.2 394.9h2.2v2.2h-2.2zM557.4 409.9h2.2v2.2h-2.2zM565.6 412.9h2.2v2.2h-2.2zM573.7 428.9h2.2v2.2h-2.2zM581.9 439.5h2.2v2.2h-2.2z" fill="#2846ff" stroke="none"/>
<polyline points="60.0,112.6 68.2,121.8 76.3,121.0 84.5,122.5 92.7,128.7 100.9,133.5 109.0,133.4 117.2,135.2 125.4,140.4 133.5,143.0 141.7,135.6 149.9,129.9 158.1,122.1 166.2,118.8 174.4,108.7 182.6,103.8 190.8,110.2 198.9,113.2 207.1,106.1 215.3,98.6 223.4,102.6 231.6,107.9 239.8,95.0 248.0,118.0 256.1,146.0 264.3,158.0 272.5,150.5 280.6,153.8 288.8,158.7 297.0,172.1 305.2,157.4 313.3,157.3 321.5,170.3 329.7,173.0 337.8,157.7 346.0,150.7 354.2,171.6 362.4,149.3 370.5,130.1 378.7,138.1 386.9,161.6 395.0,157.6 403.2,151.0 411.4,153.3 419.6,162.1 427.7,166.5 435.9,143.6 444.1,142.4 452.2,158.0 460.4,147.4 468.6,135.3 476.8,146.2 484.9,139.1 493.1,148.1 501.3,137.0 509.5,149.8 517.6,187.8 525.8,207.3 534.0,189.5 542.1,185.3 550.3,182.9 558.5,179.5 566.7,183.0 574.8,158.1 583.0,173.0" stroke="#5a32f0" stroke-width="1.0"/>
<path d="M91.6 127.6h2.2v2.2h-2.2zM99.8 132.4h2.2v2.2h-2.2zM107.9 132.3h2.2v2.2h-2.2zM116.1 134.1h2.2v2.2h-2.2zM124.3 139.3h2.2v2.2h-2.2zM132.4 141.9h2.2v2.2h-2.2zM140.6 134.5h2.2v2.2h-2.2zM148.8 128.8h2.2v2.2h-2.2zM157.0 121.0h2.2v2.2h-2.2zM165.1 117.7h2.2v2.2h-2.2zM173.3 107.6h2.2v2.2h-2.2zM181.5 102.7h2.2v2.2h-2.2zM189.7 109.1h2.2v2.2h-2.2zM197.8 112.1h2.2v2.2h-2.2zM206.0 105.0h2.2v2.2h-2.2zM214.2 97.5h2.2v2.2h-2.2zM222.3 101.5h2.2v2.2h-2.2zM230.5 106.8h2.2v2.2h-2.2zM238.7 93.9h2.2v2.2h-2.2zM246.9 116.9h2.2v2.2h-2.2zM255.0 144.9h2.2v2.2h-2.2zM263.2 156.9h2.2v2.2h-2.2zM271.4 149.4h2.2v2.2h-2.2zM279.5 152.7h2.2v2.2h-2.2zM287.7 157.6h2.2v2.2h-2.2zM295.9 171.0h2.2v2.2h-2.2zM304.1 156.3h2.2v2.2h-2.2zM312.2 156.2h2.2v2.2h-2.2zM320.4 169.2h2.2v2.2h-2.2zM328.6 171.9h2.2v2.2h-2.2zM336.7 156.6h2.2v2.2h-2.2zM344.9 149.6h2.2v2.2h-2.2zM353.1 170.5h2.2v2.2h-2.2zM361.3 148.2h2.2v2.2h-2.2zM369.4 129.0h2.2v2.2h-2.2zM377.6 137.0h2.2v2.2h-2.2zM385.8 160.5h2.2v2.2h-2.2zM393.9 156.5h2.2v2.2h-2.2zM402.1 149.9h2.2v2.2h-2.2zM410.3 152.2h2.2v2.2h-2.2zM418.5 161.0h2.2v2.2h-2.2zM426.6 165.4h2.2v2.2h-2.2zM434.8 142.5h2.2v2.2h-2.2zM443.0 141.3h2.2v2.2h-2.2zM451.1 156.9h2.2v2.2h-2.2zM459.3 146.3h2.2v2.2h-2.2zM467.5 134.2h2.2v2.2h-2.2zM475.7 145.1h2.2v2.2h-2.2zM483.8 138.0h2.2v2.2h-2.2zM492.0 147.0h2.2v2.2h-2.2zM500.2 135.9h2.2v2.2h-2.2zM508.4 148.7h2.2v2.2h-2.2zM516.5 186.7h2.2v2.2h-2.2zM524.7 206.2h2.2v2.2h-2.2zM532.9 188.4h2.2v2.2h-2.2zM541.0 184.2h2.2v2.2h-2.2zM549.2 181.8h2.2v2.2h-2.2zM557.4 178.4h2.2v2.2h-2.2zM565.6 181.9h2.2v2.2h-2.2zM573.7 157.0h2.2v2.2h-2.2zM581.9 171.9h2.2v2.2h-2.2z" fill="#5a32f0" stroke="none"/>
<polyline points="60.0,441.9 68.2,441.9 76.3,441.1 84.5,441.9 92.7,437.5 100.9,441.9 109.0,441.9 117.2,441.9 125.4,441.9 133.5,441.9 141.7,441.9 149.9,441.9 158.1,441.9 166.2,441.9 174.4,441.9 182.6,441.9 190.8,441.9 198.9,441.9 207.1,441.9 215.3,441.9 223.4,441.9 231.6,441.9 239.8,441.9 248.0,441.9 256.1,441.9 264.3,441.1 272.5,441.4 280.6,373.1 288.8,441.9 297.0,440.9 305.2,441.9 313.3,441.9 321.5,441.9 329.7,441.9 337.8,441.7 346.0,440.8 354.2,441.9 362.4,441.9 370.5,441.9 378.7,423.5 386.9,423.2 395.0,440.2 403.2,433.2 411.4,441.9 419.6,441.9 427.7,425.0 435.9,418.0 444.1,428.0 452.2,441.9 460.4,441.9 468.6,440.8 476.8,441.9 484.9,441.9 493.1,441.0 501.3,432.4 509.5,435.9 517.6,440.1 525.8,420.0 534.0,410.0 542.1,425.0 550.3,436.1 558.5,436.0 566.7,435.3 574.8,441.9 583.0,441.9" stroke="#5a32f0" stroke-width="1.0"/>
<path d="M75.2 440.0h2.2v2.2h-2.2zM91.6 436.4h2.2v2.2h-2.2zM263.2 440.0h2.2v2.2h-2.2zM271.4 440.3h2.2v2.2h-2.2zM279.5 372.0h2.2v2.2h-2.2zM295.9 439.8h2.2v2.2h-2.2zM344.9 439.7h2.2v2.2h-2.2zM377.6 422.4h2.2v2.2h-2.2zM385.8 422.1h2.2v2.2h-2.2zM393.9 439.1h2.2v2.2h-2.2zM402.1 432.1h2.2v2.2h-2.2zM426.6 423.9h2.2v2.2h-2.2zM434.8 416.9h2.2v2.2h-2.2zM443.0 426.9h2.2v2.2h-2.2zM467.5 439.7h2.2v2.2h-2.2zM492.0 439.9h2.2v2.2h-2.2zM500.2 431.3h2.2v2.2h-2.2zM508.4 434.8h2.2v2.2h-2.2zM516.5 439.0h2.2v2.2h-2.2zM524.7 418.9h2.2v2.2h-2.2zM532.9 408.9h2.2v2.2h-2.2zM541.0 423.9h2.2v2.2h-2.2zM549.2 435.0h2.2v2.2h-2.2zM557.4 434.9h2.2v2.2h-2.2zM565.6 434.2h2.2v2.2h-2.2z" fill="#5a32f0" stroke="none"/>
<polyline points="60.0,113.1 68.2,122.5 76.3,121.5 84.5,122.8 92.7,130.5 100.9,136.3 109.0,136.4 117.2,142.7 125.4,149.6 133.5,141.3 141.7,135.7 149.9,129.5 158.1,123.7 166.2,118.5 174.4,113.3 182.6,105.7 190.8,106.3 198.9,107.0 207.1,107.0 215.3,96.6 223.4,99.4 231.6,99.3 239.8,88.0 248.0,82.5 256.1,82.5 264.3,90.0 272.5,88.7 280.6,116.7 288.8,133.0 297.0,152.0 305.2,154.9 313.3,155.3 321.5,155.7 329.7,161.8 337.8,148.0 346.0,136.7 354.2,132.6 362.4,136.9 370.5,127.1 378.7,125.5 386.9,137.8 395.0,167.6 403.2,158.0 411.4,174.4 419.6,192.3 427.7,196.1 435.9,184.4 444.1,178.4 452.2,184.4 460.4,179.2 468.6,184.2 476.8,176.8 484.9,165.4 493.1,160.2 501.3,160.8 509.5,174.0 517.6,187.4 525.8,189.4 534.0,182.9 542.1,183.4 550.3,182.2 558.5,194.3 566.7,151.9 574.8,160.3 583.0,153.2" stroke="#8a22e2" stroke-width="1.0"/>
<path d="M91.6 129.4h2.2v2.2h-2.2zM99.8 135.2h2.2v2.2h-2.2zM107.9 135.3h2.2v2.2h-2.2zM116.1 141.6h2.2v2.2h-2.2zM124.3 148.5h2.2v2.2h-2.2zM132.4 140.2h2.2v2.2h-2.2zM140.6 134.6h2.2v2.2h-2.2zM148.8 128.4h2.2v2.2h-2.2zM157.0 122.6h2.2v2.2h-2.2zM165.1 117.4h2.2v2.2h-2.2zM173.3 112.2h2.2v2.2h-2.2zM181.5 104.6h2.2v2.2h-2.2zM189.7 105.2h2.2v2.2h-2.2zM197.8 105.9h2.2v2.2h-2.2zM206.0 105.9h2.2v2.2h-2.2zM214.2 95.5h2.2v2.2h-2.2zM222.3 98.3h2.2v2.2h-2.2zM230.5 98.2h2.2v2.2h-2.2zM238.7 86.9h2.2v2.2h-2.2zM246.9 81.4h2.2v2.2h-2.2zM255.0 81.4h2.2v2.2h-2.2zM263.2 88.9h2.2v2.2h-2.2zM271.4 87.6h2.2v2.2h-2.2zM279.5 115.6h2.2v2.2h-2.2zM287.7 131.9h2.2v2.2h-2.2zM295.9 150.9h2.2v2.2h-2.2zM304.1 153.8h2.2v2.2h-2.2zM312.2 154.2h2.2v2.2h-2.2zM320.4 154.6h2.2v2.2h-2.2zM328.6 160.7h2.2v2.2h-2.2zM336.7 146.9h2.2v2.2h-2.2zM344.9 135.6h2.2v2.2h-2.2zM353.1 131.5h2.2v2.2h-2.2zM361.3 135.8h2.2v2.2h-2.2zM369.4 126.0h2.2v2.2h-2.2zM377.6 124.4h2.2v2.2h-2.2zM385.8 136.7h2.2v2.2h-2.2zM393.9 166.5h2.2v2.2h-2.2zM402.1 156.9h2.2v2.2h-2.2zM410.3 173.3h2.2v2.2h-2.2zM418.5 191.2h2.2v2.2h-2.2zM426.6 195.0h2.2v2.2h-2.2zM434.8 183.3h2.2v2.2h-2.2zM443.0 177.3h2.2v2.2h-2.2zM451.1 183.3h2.2v2.2h-2.2zM459.3 178.1h2.2v2.2h-2.2zM467.5 183.1h2.2v2.2h-2.2zM475.7 175.7h2.2v2.2h-2.2zM483.8 164.3h2.2v2.2h-2.2zM492.0 159.1h2.2v2.2h-2.2zM500.2 159.7h2.2v2.2h-2.2zM508.4 172.9h2.2v2.2h-2.2zM516.5 186.3h2.2v2.2h-2.2zM524.7 188.3h2.2v2.2h-2.2zM532.9 181.8h2.2v2.2h-2.2zM541.0 182.3h2.2v2.2h-2.2zM549.2 181.1h2.2v2.2h-2.2zM557.4 193.2h2.2v2.2h-2.2zM565.6 150.8h2.2v2.2h-2.2zM573.7 159.2h2.2v2.2h-2.2zM581.9 152.1h2.2v2.2h-2.2z" fill="#8a22e2" stroke="none"/>
<polyline points="60.0,441.9 68.2,441.9 76.3,441.1 84.5,441.9 92.7,441.9 100.9,441.9 109.0,438.0 117.2,428.9 125.4,441.9 133.5,441.9 141.7,441.9 149.9,441.9 158.1,441.9 166.2,441.9 174.4,441.9 182.6,441.9 190.8,440.1 198.9,441.9 207.1,441.9 215.3,441.9 223.4,441.9 231.6,441.9 239.8,441.9 248.0,420.0 256.1,389.2 264.3,432.0 272.5,434.7 280.6,407.0 288.8,325.0 297.0,430.0 305.2,440.4 313.3,441.5 321.5,441.9 329.7,441.9 337.8,428.0 346.0,413.0 354.2,441.0 362.4,441.9 370.5,435.8 378.7,431.4 386.9,409.5 395.0,441.9 403.2,441.9 411.4,441.9 419.6,432.5 427.7,438.7 435.9,441.9 444.1,435.6 452.2,441.9 460.4,441.9 468.6,438.0 476.8,368.2 484.9,363.4 493.1,440.0 501.3,441.9 509.5,406.0 517.6,432.0 525.8,415.0 534.0,407.4 542.1,430.0 550.3,441.9 558.5,441.9 566.7,414.0 574.8,403.6 583.0,438.0" stroke="#8a22e2" stroke-width="1.0"/>
<path d="M75.2 440.0h2.2v2.2h-2.2zM107.9 436.9h2.2v2.2h-2.2zM116.1 427.8h2.2v2.2h-2.2zM189.7 439.0h2.2v2.2h-2.2zM246.9 418.9h2.2v2.2h-2.2zM255.0 388.1h2.2v2.2h-2.2zM263.2 430.9h2.2v2.2h-2.2zM271.4 433.6h2.2v2.2h-2.2zM279.5 405.9h2.2v2.2h-2.2zM287.7 323.9h2.2v2.2h-2.2zM295.9 428.9h2.2v2.2h-2.2zM304.1 439.3h2.2v2.2h-2.2zM312.2 440.4h2.2v2.2h-2.2zM336.7 426.9h2.2v2.2h-2.2zM344.9 411.9h2.2v2.2h-2.2zM353.1 439.9h2.2v2.2h-2.2zM369.4 434.7h2.2v2.2h-2.2zM377.6 430.3h2.2v2.2h-2.2zM385.8 408.4h2.2v2.2h-2.2zM418.5 431.4h2.2v2.2h-2.2zM426.6 437.6h2.2v2.2h-2.2zM443.0 434.5h2.2v2.2h-2.2zM467.5 436.9h2.2v2.2h-2.2zM475.7 367.1h2.2v2.2h-2.2zM483.8 362.3h2.2v2.2h-2.2zM492.0 438.9h2.2v2.2h-2.2zM508.4 404.9h2.2v2.2h-2.2zM516.5 430.9h2.2v2.2h-2.2zM524.7 413.9h2.2v2.2h-2.2zM532.9 406.3h2.2v2.2h-2.2zM541.0 428.9h2.2v2.2h-2.2zM565.6 412.9h2.2v2.2h-2.2zM573.7 402.5h2.2v2.2h-2.2zM581.9 436.9h2.2v2.2h-2.2z" fill="#8a22e2" stroke="none"/>
<polyline points="60.0,113.0 68.2,121.7 76.3,120.4 84.5,122.0 92.7,127.7 100.9,130.6 109.0,131.2 117.2,133.8 125.4,140.5 133.5,142.2 141.7,133.9 149.9,127.6 158.1,121.2 166.2,115.1 174.4,109.6 182.6,106.8 190.8,109.5 198.9,114.2 207.1,110.0 215.3,103.7 223.4,104.7 231.6,105.4 239.8,90.6 248.0,99.1 256.1,95.3 264.3,127.6 272.5,137.8 280.6,137.9 288.8,157.2 297.0,167.4 305.2,167.4 313.3,165.5 321.5,163.0 329.7,166.6 337.8,165.0 346.0,164.0 354.2,172.5 362.4,179.0 370.5,167.5 378.7,163.0 386.9,170.0 395.0,162.4 403.2,146.0 411.4,144.5 419.6,145.6 427.7,149.6 435.9,145.4 444.1,143.0 452.2,143.3 460.4,139.0 468.6,118.0 476.8,116.0 484.9,114.7 493.1,116.7 501.3,105.8 509.5,115.0 517.6,135.0 525.8,156.7 534.0,165.0 542.1,164.0 550.3,168.3 558.5,167.5 566.7,140.7 574.8,145.3 583.0,143.1" stroke="#b81ed2" stroke-width="1.0"/>
<path d="M91.6 126.6h2.2v2.2h-2.2zM99.8 129.5h2.2v2.2h-2.2zM107.9 130.1h2.2v2.2h-2.2zM116.1 132.7h2.2v2.2h-2.2zM124.3 139.4h2.2v2.2h-2.2zM132.4 141.1h2.2v2.2h-2.2zM140.6 132.8h2.2v2.2h-2.2zM148.8 126.5h2.2v2.2h-2.2zM157.0 120.1h2.2v2.2h-2.2zM165.1 114.0h2.2v2.2h-2.2zM173.3 108.5h2.2v2.2h-2.2zM181.5 105.7h2.2v2.2h-2.2zM189.7 108.4h2.2v2.2h-2.2zM197.8 113.1h2.2v2.2h-2.2zM206.0 108.9h2.2v2.2h-2.2zM214.2 102.6h2.2v2.2h-2.2zM222.3 103.6h2.2v2.2h-2.2zM230.5 104.3h2.2v2.2h-2.2zM238.7 89.5h2.2v2.2h-2.2zM246.9 98.0h2.2v2.2h-2.2zM255.0 94.2h2.2v2.2h-2.2zM263.2 126.5h2.2v2.2h-2.2zM271.4 136.7h2.2v2.2h-2.2zM279.5 136.8h2.2v2.2h-2.2zM287.7 156.1h2.2v2.2h-2.2zM295.9 166.3h2.2v2.2h-2.2zM304.1 166.3h2.2v2.2h-2.2zM312.2 164.4h2.2v2.2h-2.2zM320.4 161.9h2.2v2.2h-2.2zM328.6 165.5h2.2v2.2h-2.2zM336.7 163.9h2.2v2.2h-2.2zM344.9 162.9h2.2v2.2h-2.2zM353.1 171.4h2.2v2.2h-2.2zM361.3 177.9h2.2v2.2h-2.2zM369.4 166.4h2.2v2.2h-2.2zM377.6 161.9h2.2v2.2h-2.2zM385.8 168.9h2.2v2.2h-2.2zM393.9 161.3h2.2v2.2h-2.2zM402.1 144.9h2.2v2.2h-2.2zM410.3 143.4h2.2v2.2h-2.2zM418.5 144.5h2.2v2.2h-2.2zM426.6 148.5h2.2v2.2h-2.2zM434.8 144.3h2.2v2.2h-2.2zM443.0 141.9h2.2v2.2h-2.2zM451.1 142.2h2.2v2.2h-2.2zM459.3 137.9h2.2v2.2h-2.2zM467.5 116.9h2.2v2.2h-2.2zM475.7 114.9h2.2v2.2h-2.2zM483.8 113.6h2.2v2.2h-2.2zM492.0 115.6h2.2v2.2h-2.2zM500.2 104.7h2.2v2.2h-2.2zM508.4 113.9h2.2v2.2h-2.2zM516.5 133.9h2.2v2.2h-2.2zM524.7 155.6h2.2v2.2h-2.2zM532.9 163.9h2.2v2.2h-2.2zM541.0 162.9h2.2v2.2h-2.2zM549.2 167.2h2.2v2.2h-2.2zM557.4 166.4h2.2v2.2h-2.2zM565.6 139.6h2.2v2.2h-2.2zM573.7 144.2h2.2v2.2h-2.2zM581.9 142.0h2.2v2.2h-2.2z" fill="#b81ed2" stroke="none"/>
<polyline points="60.0,441.9 68.2,441.9 76.3,441.9 84.5,441.9 92.7,441.9 100.9,441.9 109.0,435.0 117.2,421.5 125.4,441.9 133.5,441.9 141.7,441.9 149.9,441.9 158.1,441.8 166.2,441.9 174.4,441.9 182.6,441.9 190.8,441.7 198.9,441.9 207.1,441.9 215.3,441.9 223.4,441.9 231.6,441.9 239.8,441.9 248.0,439.6 256.1,441.9 264.3,441.9 272.5,441.9 280.6,441.9 288.8,441.8 297.0,441.9 305.2,441.9 313.3,441.7 321.5,441.9 329.7,441.9 337.8,433.0 346.0,425.0 354.2,441.9 362.4,441.9 370.5,441.9 378.7,441.9 386.9,433.7 395.0,425.5 403.2,420.0 411.4,394.0 419.6,425.0 427.7,441.9 435.9,441.4 444.1,426.0 452.2,441.9 460.4,441.9 468.6,441.9 476.8,441.9 484.9,441.5 493.1,441.9 501.3,441.9 509.5,410.0 517.6,438.5 525.8,441.9 534.0,440.5 542.1,436.6 550.3,441.9 558.5,439.4 566.7,441.0 574.8,441.7 583.0,441.9" stroke="#b81ed2" stroke-width="1.0"/>
<path d="M107.9 433.9h2.2v2.2h-2.2zM116.1 420.4h2.2v2.2h-2.2zM246.9 438.5h2.2v2.2h-2.2zM336.7 431.9h2.2v2.2h-2.2zM344.9 423.9h2.2v2.2h-2.2zM385.8 432.6h2.2v2.2h-2.2zM393.9 424.4h2.2v2.2h-2.2zM402.1 418.9h2.2v2.2h-2.2zM410.3 392.9h2.2v2.2h-2.2zM418.5 423.9h2.2v2.2h-2.2zM434.8 440.3h2.2v2.2h-2.2zM443.0 424.9h2.2v2.2h-2.2zM483.8 440.4h2.2v2.2h-2.2zM508.4 408.9h2.2v2.2h-2.2zM516.5 437.4h2.2v2.2h-2.2zM532.9 439.4h2.2v2.2h-2.2zM541.0 435.5h2.2v2.2h-2.2zM557.4 438.3h2.2v2.2h-2.2zM565.6 439.9h2.2v2.2h-2.2z" fill="#b81ed2" stroke="none"/>
<polyline points="60.0,113.2 68.2,122.0 76.3,121.6 84.5,122.2 92.7,128.7 100.9,133.8 109.0,133.9 117.2,136.3 125.4,142.1 133.5,139.8 141.7,132.8 149.9,130.2 158.1,126.0 166.2,116.5 174.4,107.6 182.6,102.6 190.8,106.2 198.9,105.8 207.1,103.3 215.3,99.0 223.4,106.6 231.6,113.0 239.8,94.5 248.0,97.1 256.1,96.9 264.3,112.6 272.5,128.0 280.6,132.2 288.8,146.9 297.0,169.1 305.2,166.5 313.3,154.6 321.5,158.7 329.7,165.4 337.8,142.9 346.0,126.9 354.2,125.6 362.4,122.9 370.5,121.8 378.7,116.9 386.9,126.4 395.0,127.3 403.2,122.6 411.4,113.0 419.6,117.5 427.7,115.8 435.9,109.7 444.1,125.0 452.2,151.7 460.4,160.0 468.6,148.1 476.8,145.2 484.9,143.8 493.1,149.0 501.3,147.3 509.5,152.5 517.6,160.0 525.8,151.7 534.0,133.3 542.1,117.5 550.3,121.7 558.5,125.0 566.7,106.7 574.8,100.0 583.0,111.7" stroke="#a4a4a4" stroke-width="1.0"/>
<path d="M91.6 127.6h2.2v2.2h-2.2zM99.8 132.7h2.2v2.2h-2.2zM107.9 132.8h2.2v2.2h-2.2zM116.1 135.2h2.2v2.2h-2.2zM124.3 141.0h2.2v2.2h-2.2zM132.4 138.7h2.2v2.2h-2.2zM140.6 131.7h2.2v2.2h-2.2zM148.8 129.1h2.2v2.2h-2.2zM157.0 124.9h2.2v2.2h-2.2zM165.1 115.4h2.2v2.2h-2.2zM173.3 106.5h2.2v2.2h-2.2zM181.5 101.5h2.2v2.2h-2.2zM189.7 105.1h2.2v2.2h-2.2zM197.8 104.7h2.2v2.2h-2.2zM206.0 102.2h2.2v2.2h-2.2zM214.2 97.9h2.2v2.2h-2.2zM222.3 105.5h2.2v2.2h-2.2zM230.5 111.9h2.2v2.2h-2.2zM238.7 93.4h2.2v2.2h-2.2zM246.9 96.0h2.2v2.2h-2.2zM255.0 95.8h2.2v2.2h-2.2zM263.2 111.5h2.2v2.2h-2.2zM271.4 126.9h2.2v2.2h-2.2zM279.5 131.1h2.2v2.2h-2.2zM287.7 145.8h2.2v2.2h-2.2zM295.9 168.0h2.2v2.2h-2.2zM304.1 165.4h2.2v2.2h-2.2zM312.2 153.5h2.2v2.2h-2.2zM320.4 157.6h2.2v2.2h-2.2zM328.6 164.3h2.2v2.2h-2.2zM336.7 141.8h2.2v2.2h-2.2zM344.9 125.8h2.2v2.2h-2.2zM353.1 124.5h2.2v2.2h-2.2zM361.3 121.8h2.2v2.2h-2.2zM369.4 120.7h2.2v2.2h-2.2zM377.6 115.8h2.2v2.2h-2.2zM385.8 125.3h2.2v2.2h-2.2zM393.9 126.2h2.2v2.2h-2.2zM402.1 121.5h2.2v2.2h-2.2zM410.3 111.9h2.2v2.2h-2.2zM418.5 116.4h2.2v2.2h-2.2zM426.6 114.7h2.2v2.2h-2.2zM434.8 108.6h2.2v2.2h-2.2zM443.0 123.9h2.2v2.2h-2.2zM451.1 150.6h2.2v2.2h-2.2zM459.3 158.9h2.2v2.2h-2.2zM467.5 147.0h2.2v2.2h-2.2zM475.7 144.1h2.2v2.2h-2.2zM483.8 142.7h2.2v2.2h-2.2zM492.0 147.9h2.2v2.2h-2.2zM500.2 146.2h2.2v2.2h-2.2zM508.4 151.4h2.2v2.2h-2.2zM516.5 158.9h2.2v2.2h-2.2zM524.7 150.6h2.2v2.2h-2.2zM532.9 132.2h2.2v2.2h-2.2zM541.0 116.4h2.2v2.2h-2.2zM549.2 120.6h2.2v2.2h-2.2zM557.4 123.9h2.2v2.2h-2.2zM565.6 105.6h2.2v2.2h-2.2zM573.7 98.9h2.2v2.2h-2.2zM581.9 110.6h2.2v2.2h-2.2z" fill="#a4a4a4" stroke="none"/>
<polyline points="60.0,441.9 68.2,441.9 76.3,441.9 84.5,441.9 92.7,441.0 100.9,441.9 109.0,439.0 117.2,441.9 125.4,441.9 133.5,441.9 141.7,441.9 149.9,441.9 158.1,441.5 166.2,441.9 174.4,441.9 182.6,441.9 190.8,440.7 198.9,441.9 207.1,441.9 215.3,441.9 223.4,441.9 231.6,441.9 239.8,441.9 248.0,441.9 256.1,441.9 264.3,440.2 272.5,441.9 280.6,441.9 288.8,415.0 297.0,405.0 305.2,432.0 313.3,441.9 321.5,441.9 329.7,441.9 337.8,441.7 346.0,440.8 354.2,441.9 362.4,441.9 370.5,441.9 378.7,441.9 386.9,406.9 395.0,441.9 403.2,441.9 411.4,433.6 419.6,424.8 427.7,437.5 435.9,430.0 444.1,416.0 452.2,434.0 460.4,441.9 468.6,439.7 476.8,441.9 484.9,441.9 493.1,441.9 501.3,441.9 509.5,441.9 517.6,441.0 525.8,441.9 534.0,435.2 542.1,430.1 550.3,441.9 558.5,441.1 566.7,441.9 574.8,440.5 583.0,438.2" stroke="#a4a4a4" stroke-width="1.0"/>
<path d="M91.6 439.9h2.2v2.2h-2.2zM107.9 437.9h2.2v2.2h-2.2zM157.0 440.4h2.2v2.2h-2.2zM189.7 439.6h2.2v2.2h-2.2zM263.2 439.1h2.2v2.2h-2.2zM287.7 413.9h2.2v2.2h-2.2zM295.9 403.9h2.2v2.2h-2.2zM304.1 430.9h2.2v2.2h-2.2zM344.9 439.7h2.2v2.2h-2.2zM385.8 405.8h2.2v2.2h-2.2zM410.3 432.5h2.2v2.2h-2.2zM418.5 423.7h2.2v2.2h-2.2zM426.6 436.4h2.2v2.2h-2.2zM434.8 428.9h2.2v2.2h-2.2zM443.0 414.9h2.2v2.2h-2.2zM451.1 432.9h2.2v2.2h-2.2zM467.5 438.6h2.2v2.2h-2.2zM516.5 439.9h2.2v2.2h-2.2zM532.9 434.1h2.2v2.2h-2.2zM541.0 429.0h2.2v2.2h-2.2zM557.4 440.0h2.2v2.2h-2.2zM573.7 439.4h2.2v2.2h-2.2zM581.9 437.1h2.2v2.2h-2.2z" fill="#a4a4a4" stroke="none"/>
<polyline points="60.0,112.8 68.2,121.8 76.3,120.7 84.5,122.6 92.7,129.3 100.9,133.4 109.0,132.9 117.2,136.8 125.4,141.9 133.5,142.0 141.7,136.6 149.9,129.5 158.1,124.5 166.2,120.2 174.4,111.7 182.6,105.6 190.8,106.8 198.9,110.2 207.1,103.9 215.3,100.7 223.4,104.8 231.6,102.3 239.8,90.2 248.0,96.5 256.1,116.9 264.3,133.3 272.5,148.2 280.6,143.7 288.8,144.6 297.0,149.2 305.2,147.1 313.3,141.0 321.5,135.0 329.7,134.0 337.8,115.0 346.0,105.8 354.2,118.0 362.4,127.8 370.5,122.4 378.7,145.6 386.9,189.7 395.0,195.7 403.2,176.8 411.4,184.3 419.6,192.3 427.7,185.6 435.9,160.7 444.1,157.6 452.2,153.4 460.4,156.1 468.6,149.7 476.8,176.8 484.9,164.1 493.1,166.7 501.3,156.8 509.5,165.4 517.6,185.9 525.8,181.3 534.0,160.6 542.1,141.4 550.3,144.1 558.5,158.2 566.7,155.1 574.8,140.1 583.0,145.9" stroke="#ff5a5a" stroke-width="1.0"/>
<path d="M91.6 128.2h2.2v2.2h-2.2zM99.8 132.3h2.2v2.2h-2.2zM107.9 131.8h2.2v2.2h-2.2zM116.1 135.7h2.2v2.2h-2.2zM124.3 140.8h2.2v2.2h-2.2zM132.4 140.9h2.2v2.2h-2.2zM140.6 135.5h2.2v2.2h-2.2zM148.8 128.4h2.2v2.2h-2.2zM157.0 123.4h2.2v2.2h-2.2zM165.1 119.1h2.2v2.2h-2.2zM173.3 110.6h2.2v2.2h-2.2zM181.5 104.5h2.2v2.2h-2.2zM189.7 105.7h2.2v2.2h-2.2zM197.8 109.1h2.2v2.2h-2.2zM206.0 102.8h2.2v2.2h-2.2zM214.2 99.6h2.2v2.2h-2.2zM222.3 103.7h2.2v2.2h-2.2zM230.5 101.2h2.2v2.2h-2.2zM238.7 89.1h2.2v2.2h-2.2zM246.9 95.4h2.2v2.2h-2.2zM255.0 115.8h2.2v2.2h-2.2zM263.2 132.2h2.2v2.2h-2.2zM271.4 147.1h2.2v2.2h-2.2zM279.5 142.6h2.2v2.2h-2.2zM287.7 143.5h2.2v2.2h-2.2zM295.9 148.1h2.2v2.2h-2.2zM304.1 146.0h2.2v2.2h-2.2zM312.2 139.9h2.2v2.2h-2.2zM320.4 133.9h2.2v2.2h-2.2zM328.6 132.9h2.2v2.2h-2.2zM336.7 113.9h2.2v2.2h-2.2zM344.9 104.7h2.2v2.2h-2.2zM353.1 116.9h2.2v2.2h-2.2zM361.3 126.7h2.2v2.2h-2.2zM369.4 121.3h2.2v2.2h-2.2zM377.6 144.5h2.2v2.2h-2.2zM385.8 188.6h2.2v2.2h-2.2zM393.9 194.6h2.2v2.2h-2.2zM402.1 175.7h2.2v2.2h-2.2zM410.3 183.2h2.2v2.2h-2.2zM418.5 191.2h2.2v2.2h-2.2zM426.6 184.5h2.2v2.2h-2.2zM434.8 159.6h2.2v2.2h-2.2zM443.0 156.5h2.2v2.2h-2.2zM451.1 152.3h2.2v2.2h-2.2zM459.3 155.0h2.2v2.2h-2.2zM467.5 148.6h2.2v2.2h-2.2zM475.7 175.7h2.2v2.2h-2.2zM483.8 163.0h2.2v2.2h-2.2zM492.0 165.6h2.2v2.2h-2.2zM500.2 155.7h2.2v2.2h-2.2zM508.4 164.3h2.2v2.2h-2.2zM516.5 184.8h2.2v2.2h-2.2zM524.7 180.2h2.2v2.2h-2.2zM532.9 159.5h2.2v2.2h-2.2zM541.0 140.3h2.2v2.2h-2.2zM549.2 143.0h2.2v2.2h-2.2zM557.4 157.1h2.2v2.2h-2.2zM565.6 154.0h2.2v2.2h-2.2zM573.7 139.0h2.2v2.2h-2.2zM581.9 144.8h2.2v2.2h-2.2z" fill="#ff5a5a" stroke="none"/>
<polyline points="60.0,441.9 68.2,441.9 76.3,434.8 84.5,441.9 92.7,438.0 100.9,438.0 109.0,441.9 117.2,425.9 125.4,441.9 133.5,441.9 141.7,441.9 149.9,441.9 158.1,441.9 166.2,441.9 174.4,441.9 182.6,441.9 190.8,438.6 198.9,441.9 207.1,441.9 215.3,441.9 223.4,441.9 231.6,441.9 239.8,441.9 248.0,441.9 256.1,426.3 264.3,434.9 272.5,428.9 280.6,435.3 288.8,436.5 297.0,440.4 305.2,439.2 313.3,441.2 321.5,441.9 329.7,441.9 337.8,440.6 346.0,438.8 354.2,441.9 362.4,441.9 370.5,437.8 378.7,400.0 386.9,395.0 395.0,420.0 403.2,423.1 411.4,432.8 419.6,436.7 427.7,434.9 435.9,441.1 444.1,441.9 452.2,441.9 460.4,441.9 468.6,441.1 476.8,433.6 484.9,441.9 493.1,441.9 501.3,441.9 509.5,424.2 517.6,440.1 525.8,425.1 534.0,433.8 542.1,433.3 550.3,428.8 558.5,441.9 566.7,418.0 574.8,412.0 583.0,436.0" stroke="#ff5a5a" stroke-width="1.0"/>
<path d="M75.2 433.7h2.2v2.2h-2.2zM91.6 436.9h2.2v2.2h-2.2zM99.8 436.9h2.2v2.2h-2.2zM116.1 424.8h2.2v2.2h-2.2zM189.7 437.5h2.2v2.2h-2.2zM255.0 425.2h2.2v2.2h-2.2zM263.2 433.8h2.2v2.2h-2.2zM271.4 427.8h2.2v2.2h-2.2zM279.5 434.2h2.2v2.2h-2.2zM287.7 435.4h2.2v2.2h-2.2zM295.9 439.3h2.2v2.2h-2.2zM304.1 438.1h2.2v2.2h-2.2zM312.2 440.1h2.2v2.2h-2.2zM336.7 439.5h2.2v2.2h-2.2zM344.9 437.7h2.2v2.2h-2.2zM369.4 436.7h2.2v2.2h-2.2zM377.6 398.9h2.2v2.2h-2.2zM385.8 393.9h2.2v2.2h-2.2zM393.9 418.9h2.2v2.2h-2.2zM402.1 422.0h2.2v2.2h-2.2zM410.3 431.7h2.2v2.2h-2.2zM418.5 435.6h2.2v2.2h-2.2zM426.6 433.8h2.2v2.2h-2.2zM434.8 440.0h2.2v2.2h-2.2zM467.5 440.0h2.2v2.2h-2.2zM475.7 432.5h2.2v2.2h-2.2zM508.4 423.1h2.2v2.2h-2.2zM516.5 439.0h2.2v2.2h-2.2zM524.7 424.0h2.2v2.2h-2.2zM532.9 432.7h2.2v2.2h-2.2zM541.0 432.2h2.2v2.2h-2.2zM549.2 427.7h2.2v2.2h-2.2zM565.6 416.9h2.2v2.2h-2.2zM573.7 410.9h2.2v2.2h-2.2zM581.9 434.9h2.2v2.2h-2.2z" fill="#ff5a5a" stroke="none"/>
<polyline points="60.0,112.5 68.2,121.6 76.3,120.4 84.5,121.7 92.7,127.2 100.9,130.6 109.0,132.5 117.2,133.8 125.4,139.7 133.5,139.5 141.7,130.9 149.9,119.9 158.1,116.1 166.2,112.2 174.4,105.8 182.6,100.1 190.8,102.1 198.9,102.9 207.1,100.0 215.3,94.6 223.4,98.0 231.6,102.5 239.8,93.0 248.0,108.0 256.1,138.0 264.3,150.0 272.5,152.4 280.6,152.0 288.8,155.3 297.0,167.7 305.2,153.2 313.3,149.7 321.5,147.3 329.7,147.3 337.8,131.1 346.0,123.6 354.2,121.4 362.4,122.9 370.5,119.2 378.7,120.3 386.9,129.7 395.0,137.0 403.2,135.1 411.4,138.4 419.6,150.2 427.7,176.6 435.9,160.1 444.1,142.3 452.2,145.8 460.4,146.8 468.6,134.9 476.8,134.9 484.9,139.1 493.1,143.7 501.3,137.0 509.5,148.0 517.6,146.1 525.8,150.4 534.0,141.9 542.1,141.4 550.3,152.6 558.5,169.8 566.7,168.6 574.8,174.2 583.0,186.5" stroke="#d0c030" stroke-width="1.0"/>
<path d="M91.6 126.1h2.2v2.2h-2.2zM99.8 129.5h2.2v2.2h-2.2zM107.9 131.4h2.2v2.2h-2.2zM116.1 132.7h2.2v2.2h-2.2zM124.3 138.6h2.2v2.2h-2.2zM132.4 138.4h2.2v2.2h-2.2zM140.6 129.8h2.2v2.2h-2.2zM148.8 118.8h2.2v2.2h-2.2zM157.0 115.0h2.2v2.2h-2.2zM165.1 111.1h2.2v2.2h-2.2zM173.3 104.7h2.2v2.2h-2.2zM181.5 99.0h2.2v2.2h-2.2zM189.7 101.0h2.2v2.2h-2.2zM197.8 101.8h2.2v2.2h-2.2zM206.0 98.9h2.2v2.2h-2.2zM214.2 93.5h2.2v2.2h-2.2zM222.3 96.9h2.2v2.2h-2.2zM230.5 101.4h2.2v2.2h-2.2zM238.7 91.9h2.2v2.2h-2.2zM246.9 106.9h2.2v2.2h-2.2zM255.0 136.9h2.2v2.2h-2.2zM263.2 148.9h2.2v2.2h-2.2zM271.4 151.3h2.2v2.2h-2.2zM279.5 150.9h2.2v2.2h-2.2zM287.7 154.2h2.2v2.2h-2.2zM295.9 166.6h2.2v2.2h-2.2zM304.1 152.1h2.2v2.2h-2.2zM312.2 148.6h2.2v2.2h-2.2zM320.4 146.2h2.2v2.2h-2.2zM328.6 146.2h2.2v2.2h-2.2zM336.7 130.0h2.2v2.2h-2.2zM344.9 122.5h2.2v2.2h-2.2zM353.1 120.3h2.2v2.2h-2.2zM361.3 121.8h2.2v2.2h-2.2zM369.4 118.1h2.2v2.2h-2.2zM377.6 119.2h2.2v2.2h-2.2zM385.8 128.6h2.2v2.2h-2.2zM393.9 135.9h2.2v2.2h-2.2zM402.1 134.0h2.2v2.2h-2.2zM410.3 137.3h2.2v2.2h-2.2zM418.5 149.1h2.2v2.2h-2.2zM426.6 175.5h2.2v2.2h-2.2zM434.8 159.0h2.2v2.2h-2.2zM443.0 141.2h2.2v2.2h-2.2zM451.1 144.7h2.2v2.2h-2.2zM459.3 145.7h2.2v2.2h-2.2zM467.5 133.8h2.2v2.2h-2.2zM475.7 133.8h2.2v2.2h-2.2zM483.8 138.0h2.2v2.2h-2.2zM492.0 142.6h2.2v2.2h-2.2zM500.2 135.9h2.2v2.2h-2.2zM508.4 146.9h2.2v2.2h-2.2zM516.5 145.0h2.2v2.2h-2.2zM524.7 149.3h2.2v2.2h-2.2zM532.9 140.8h2.2v2.2h-2.2zM541.0 140.3h2.2v2.2h-2.2zM549.2 151.5h2.2v2.2h-2.2zM557.4 168.7h2.2v2.2h-2.2zM565.6 167.5h2.2v2.2h-2.2zM573.7 173.1h2.2v2.2h-2.2zM581.9 185.4h2.2v2.2h-2.2z" fill="#d0c030" stroke="none"/>
<polyline points="60.0,441.9 68.2,441.9 76.3,441.9 84.5,435.9 92.7,435.6 100.9,441.9 109.0,440.6 117.2,433.5 125.4,441.9 133.5,441.9 141.7,441.9 149.9,441.9 158.1,441.9 166.2,441.9 174.4,441.9 182.6,441.9 190.8,441.9 198.9,441.9 207.1,441.9 215.3,441.9 223.4,441.9 231.6,441.9 239.8,441.9 248.0,437.6 256.1,441.9 264.3,441.9 272.5,425.7 280.6,400.0 288.8,410.0 297.0,432.0 305.2,441.9 313.3,440.4 321.5,441.9 329.7,441.9 337.8,441.9 346.0,440.9 354.2,441.9 362.4,441.9 370.5,441.9 378.7,433.4 386.9,405.0 395.0,412.0 403.2,398.0 411.4,430.0 419.6,430.6 427.7,432.9 435.9,434.6 444.1,440.1 452.2,441.9 460.4,441.9 468.6,441.0 476.8,435.9 484.9,439.3 493.1,439.6 501.3,433.9 509.5,424.8 517.6,427.8 525.8,436.0 534.0,441.9 542.1,432.3 550.3,440.5 558.5,436.2 566.7,441.9 574.8,425.9 583.0,441.9" stroke="#d0c030" stroke-width="1.0"/>
<path d="M83.4 434.8h2.2v2.2h-2.2zM91.6 434.5h2.2v2.2h-2.2zM107.9 439.5h2.2v2.2h-2.2zM116.1 432.4h2.2v2.2h-2.2zM246.9 436.5h2.2v2.2h-2.2zM271.4 424.6h2.2v2.2h-2.2zM279.5 398.9h2.2v2.2h-2.2zM287.7 408.9h2.2v2.2h-2.2zM295.9 430.9h2.2v2.2h-2.2zM312.2 439.3h2.2v2.2h-2.2zM344.9 439.8h2.2v2.2h-2.2zM377.6 432.3h2.2v2.2h-2.2zM385.8 403.9h2.2v2.2h-2.2zM393.9 410.9h2.2v2.2h-2.2zM402.1 396.9h2.2v2.2h-2.2zM410.3 428.9h2.2v2.2h-2.2zM418.5 429.5h2.2v2.2h-2.2zM426.6 431.8h2.2v2.2h-2.2zM434.8 433.5h2.2v2.2h-2.2zM443.0 439.0h2.2v2.2h-2.2zM467.5 439.9h2.2v2.2h-2.2zM475.7 434.8h2.2v2.2h-2.2zM483.8 438.2h2.2v2.2h-2.2zM492.0 438.5h2.2v2.2h-2.2zM500.2 432.8h2.2v2.2h-2.2zM508.4 423.7h2.2v2.2h-2.2zM516.5 426.7h2.2v2.2h-2.2zM524.7 434.9h2.2v2.2h-2.2zM541.0 431.2h2.2v2.2h-2.2zM549.2 439.4h2.2v2.2h-2.2zM557.4 435.1h2.2v2.2h-2.2zM573.7 424.8h2.2v2.2h-2.2z" fill="#d0c030" stroke="none"/>
<polyline points="60.0,113.1 68.2,121.4 76.3,120.6 84.5,122.2 92.7,128.7 100.9,133.8 109.0,133.9 117.2,136.1 125.4,144.5 133.5,145.0 141.7,137.2 149.9,130.7 158.1,126.2 166.2,121.0 174.4,106.8 182.6,101.6 190.8,103.5 198.9,103.3 207.1,101.7 215.3,97.0 223.4,98.4 231.6,100.0 239.8,91.0 248.0,105.0 256.1,135.0 264.3,155.0 272.5,150.1 280.6,145.5 288.8,155.2 297.0,160.3 305.2,153.2 313.3,150.3 321.5,154.6 329.7,150.4 337.8,138.7 346.0,131.1 354.2,170.1 362.4,149.6 370.5,156.1 378.7,148.6 386.9,153.1 395.0,170.6 403.2,164.9 411.4,181.6 419.6,184.1 427.7,175.5 435.9,157.5 444.1,156.9 452.2,164.4 460.4,179.5 468.6,170.5 476.8,171.9 484.9,180.2 493.1,180.8 501.3,149.6 509.5,138.2 517.6,143.8 525.8,163.3 534.0,142.0 542.1,162.4 550.3,172.4 558.5,192.3 566.7,185.0 574.8,173.4 583.0,169.5" stroke="#40e090" stroke-width="1.0"/>
<path d="M91.6 127.6h2.2v2.2h-2.2zM99.8 132.7h2.2v2.2h-2.2zM107.9 132.8h2.2v2.2h-2.2zM116.1 135.0h2.2v2.2h-2.2zM124.3 143.4h2.2v2.2h-2.2zM132.4 143.9h2.2v2.2h-2.2zM140.6 136.1h2.2v2.2h-2.2zM148.8 129.6h2.2v2.2h-2.2zM157.0 125.1h2.2v2.2h-2.2zM165.1 119.9h2.2v2.2h-2.2zM173.3 105.7h2.2v2.2h-2.2zM181.5 100.5h2.2v2.2h-2.2zM189.7 102.4h2.2v2.2h-2.2zM197.8 102.2h2.2v2.2h-2.2zM206.0 100.6h2.2v2.2h-2.2zM214.2 95.9h2.2v2.2h-2.2zM222.3 97.3h2.2v2.2h-2.2zM230.5 98.9h2.2v2.2h-2.2zM238.7 89.9h2.2v2.2h-2.2zM246.9 103.9h2.2v2.2h-2.2zM255.0 133.9h2.2v2.2h-2.2zM263.2 153.9h2.2v2.2h-2.2zM271.4 149.0h2.2v2.2h-2.2zM279.5 144.4h2.2v2.2h-2.2zM287.7 154.1h2.2v2.2h-2.2zM295.9 159.2h2.2v2.2h-2.2zM304.1 152.1h2.2v2.2h-2.2zM312.2 149.2h2.2v2.2h-2.2zM320.4 153.5h2.2v2.2h-2.2zM328.6 149.3h2.2v2.2h-2.2zM336.7 137.6h2.2v2.2h-2.2zM344.9 130.0h2.2v2.2h-2.2zM353.1 169.0h2.2v2.2h-2.2zM361.3 148.5h2.2v2.2h-2.2zM369.4 155.0h2.2v2.2h-2.2zM377.6 147.5h2.2v2.2h-2.2zM385.8 152.0h2.2v2.2h-2.2zM393.9 169.5h2.2v2.2h-2.2zM402.1 163.8h2.2v2.2h-2.2zM410.3 180.5h2.2v2.2h-2.2zM418.5 183.0h2.2v2.2h-2.2zM426.6 174.4h2.2v2.2h-2.2zM434.8 156.4h2.2v2.2h-2.2zM443.0 155.8h2.2v2.2h-2.2zM451.1 163.3h2.2v2.2h-2.2zM459.3 178.4h2.2v2.2h-2.2zM467.5 169.4h2.2v2.2h-2.2zM475.7 170.8h2.2v2.2h-2.2zM483.8 179.1h2.2v2.2h-2.2zM492.0 179.7h2.2v2.2h-2.2zM500.2 148.5h2.2v2.2h-2.2zM508.4 137.1h2.2v2.2h-2.2zM516.5 142.7h2.2v2.2h-2.2zM524.7 162.2h2.2v2.2h-2.2zM532.9 140.9h2.2v2.2h-2.2zM541.0 161.3h2.2v2.2h-2.2zM549.2 171.3h2.2v2.2h-2.2zM557.4 191.2h2.2v2.2h-2.2zM565.6 183.9h2.2v2.2h-2.2zM573.7 172.3h2.2v2.2h-2.2zM581.9 168.4h2.2v2.2h-2.2z" fill="#40e090" stroke="none"/>
<polyline points="60.0,441.9 68.2,441.9 76.3,437.1 84.5,434.9 92.7,441.9 100.9,440.8 109.0,441.9 117.2,432.1 125.4,441.9 133.5,441.9 141.7,441.9 149.9,441.9 158.1,441.9 166.2,441.9 174.4,441.9 182.6,441.9 190.8,441.9 198.9,441.9 207.1,441.9 215.3,441.9 223.4,441.9 231.6,441.9 239.8,441.9 248.0,421.3 256.1,430.9 264.3,437.6 272.5,408.0 280.6,415.0 288.8,400.0 297.0,428.0 305.2,436.7 313.3,441.9 321.5,441.9 329.7,441.9 337.8,441.9 346.0,441.9 354.2,441.9 362.4,441.9 370.5,441.9 378.7,432.5 386.9,419.0 395.0,436.9 403.2,431.5 411.4,436.5 419.6,414.6 427.7,433.9 435.9,441.9 444.1,441.9 452.2,441.9 460.4,441.7 468.6,440.6 476.8,420.0 484.9,410.0 493.1,432.0 501.3,437.4 509.5,421.6 517.6,441.9 525.8,441.9 534.0,441.9 542.1,439.3 550.3,438.9 558.5,440.7 566.7,441.9 574.8,433.1 583.0,440.2" stroke="#40e090" stroke-width="1.0"/>
<path d="M75.2 436.0h2.2v2.2h-2.2zM83.4 433.8h2.2v2.2h-2.2zM99.8 439.7h2.2v2.2h-2.2zM116.1 431.0h2.2v2.2h-2.2zM246.9 420.2h2.2v2.2h-2.2zM255.0 429.8h2.2v2.2h-2.2zM263.2 436.5h2.2v2.2h-2.2zM271.4 406.9h2.2v2.2h-2.2zM279.5 413.9h2.2v2.2h-2.2zM287.7 398.9h2.2v2.2h-2.2zM295.9 426.9h2.2v2.2h-2.2zM304.1 435.6h2.2v2.2h-2.2zM377.6 431.4h2.2v2.2h-2.2zM385.8 417.9h2.2v2.2h-2.2zM393.9 435.8h2.2v2.2h-2.2zM402.1 430.4h2.2v2.2h-2.2zM410.3 435.4h2.2v2.2h-2.2zM418.5 413.5h2.2v2.2h-2.2zM426.6 432.8h2.2v2.2h-2.2zM467.5 439.5h2.2v2.2h-2.2zM475.7 418.9h2.2v2.2h-2.2zM483.8 408.9h2.2v2.2h-2.2zM492.0 430.9h2.2v2.2h-2.2zM500.2 436.3h2.2v2.2h-2.2zM508.4 420.5h2.2v2.2h-2.2zM541.0 438.2h2.2v2.2h-2.2zM549.2 437.8h2.2v2.2h-2.2zM557.4 439.6h2.2v2.2h-2.2zM573.7 432.0h2.2v2.2h-2.2zM581.9 439.1h2.2v2.2h-2.2z" fill="#40e090" stroke="none"/>
<polyline points="60.0,113.0 68.2,121.9 76.3,120.9 84.5,122.4 92.7,131.4 100.9,133.0 109.0,134.0 117.2,136.5 125.4,143.1 133.5,144.2 141.7,136.3 149.9,129.9 158.1,120.4 166.2,117.6 174.4,108.5 182.6,104.9 190.8,107.0 198.9,103.7 207.1,100.6 215.3,95.2 223.4,101.4 231.6,105.1 239.8,94.0 248.0,95.3 256.1,122.3 264.3,144.7 272.5,139.8 280.6,132.5 288.8,128.0 297.0,140.8 305.2,145.0 313.3,142.5 321.5,138.3 329.7,135.8 337.8,121.7 346.0,107.0 354.2,113.0 362.4,124.0 370.5,122.0 378.7,128.0 386.9,190.8 395.0,196.7 403.2,177.5 411.4,175.0 419.6,179.7 427.7,188.0 435.9,170.0 444.1,145.5 452.2,142.8 460.4,141.4 468.6,138.7 476.8,150.0 484.9,163.0 493.1,183.0 501.3,176.7 509.5,177.5 517.6,182.5 525.8,186.7 534.0,176.0 542.1,172.0 550.3,172.5 558.5,170.8 566.7,183.0 574.8,178.0 583.0,185.0" stroke="#f03232" stroke-width="1.9"/>
<path d="M91.2 129.9h3.0v3.0h-3.0zM99.4 131.5h3.0v3.0h-3.0zM107.5 132.5h3.0v3.0h-3.0zM115.7 135.0h3.0v3.0h-3.0zM123.9 141.6h3.0v3.0h-3.0zM132.0 142.7h3.0v3.0h-3.0zM140.2 134.8h3.0v3.0h-3.0zM148.4 128.4h3.0v3.0h-3.0zM156.6 118.9h3.0v3.0h-3.0zM164.7 116.1h3.0v3.0h-3.0zM172.9 107.0h3.0v3.0h-3.0zM181.1 103.4h3.0v3.0h-3.0zM189.2 105.5h3.0v3.0h-3.0zM197.4 102.2h3.0v3.0h-3.0zM205.6 99.1h3.0v3.0h-3.0zM213.8 93.7h3.0v3.0h-3.0zM221.9 99.9h3.0v3.0h-3.0zM230.1 103.6h3.0v3.0h-3.0zM238.3 92.5h3.0v3.0h-3.0zM246.5 93.8h3.0v3.0h-3.0zM254.6 120.8h3.0v3.0h-3.0zM262.8 143.2h3.0v3.0h-3.0zM271.0 138.3h3.0v3.0h-3.0zM279.1 131.0h3.0v3.0h-3.0zM287.3 126.5h3.0v3.0h-3.0zM295.5 139.3h3.0v3.0h-3.0zM303.7 143.5h3.0v3.0h-3.0zM311.8 141.0h3.0v3.0h-3.0zM320.0 136.8h3.0v3.0h-3.0zM328.2 134.3h3.0v3.0h-3.0zM336.3 120.2h3.0v3.0h-3.0zM344.5 105.5h3.0v3.0h-3.0zM352.7 111.5h3.0v3.0h-3.0zM360.9 122.5h3.0v3.0h-3.0zM369.0 120.5h3.0v3.0h-3.0zM377.2 126.5h3.0v3.0h-3.0zM385.4 189.3h3.0v3.0h-3.0zM393.5 195.2h3.0v3.0h-3.0zM401.7 176.0h3.0v3.0h-3.0zM409.9 173.5h3.0v3.0h-3.0zM418.1 178.2h3.0v3.0h-3.0zM426.2 186.5h3.0v3.0h-3.0zM434.4 168.5h3.0v3.0h-3.0zM442.6 144.0h3.0v3.0h-3.0zM450.8 141.3h3.0v3.0h-3.0zM458.9 139.9h3.0v3.0h-3.0zM467.1 137.2h3.0v3.0h-3.0zM475.3 148.5h3.0v3.0h-3.0zM483.4 161.5h3.0v3.0h-3.0zM491.6 181.5h3.0v3.0h-3.0zM499.8 175.2h3.0v3.0h-3.0zM508.0 176.0h3.0v3.0h-3.0zM516.1 181.0h3.0v3.0h-3.0zM524.3 185.2h3.0v3.0h-3.0zM532.5 174.5h3.0v3.0h-3.0zM540.6 170.5h3.0v3.0h-3.0zM548.8 171.0h3.0v3.0h-3.0zM557.0 169.3h3.0v3.0h-3.0zM565.2 181.5h3.0v3.0h-3.0zM573.3 176.5h3.0v3.0h-3.0zM581.5 183.5h3.0v3.0h-3.0z" fill="#f03232" stroke="none"/>
<polyline points="60.0,441.9 68.2,441.9 76.3,438.0 84.5,436.0 92.7,441.9 100.9,441.9 109.0,436.0 117.2,430.0 125.4,441.9 133.5,441.9 141.7,441.9 149.9,441.9 158.1,441.9 166.2,441.9 174.4,441.9 182.6,441.9 190.8,441.9 198.9,441.9 207.1,441.9 215.3,441.9 223.4,441.9 231.6,441.9 239.8,441.9 248.0,432.0 256.1,430.0 264.3,441.9 272.5,441.9 280.6,425.0 288.8,441.9 297.0,441.9 305.2,441.9 313.3,441.9 321.5,441.9 329.7,441.9 337.8,441.9 346.0,441.9 354.2,441.9 362.4,441.9 370.5,436.0 378.7,366.0 386.9,211.0 395.0,414.0 403.2,430.0 411.4,425.0 419.6,441.9 427.7,441.9 435.9,441.9 444.1,441.9 452.2,441.9 460.4,441.9 468.6,441.9 476.8,441.9 484.9,441.9 493.1,441.9 501.3,441.9 509.5,441.9 517.6,441.9 525.8,441.9 534.0,441.9 542.1,441.9 550.3,441.9 558.5,441.9 566.7,409.0 574.8,423.0 583.0,436.0" stroke="#f03232" stroke-width="1.9"/>
<path d="M74.8 436.5h3.0v3.0h-3.0zM83.0 434.5h3.0v3.0h-3.0zM107.5 434.5h3.0v3.0h-3.0zM115.7 428.5h3.0v3.0h-3.0zM246.5 430.5h3.0v3.0h-3.0zM254.6 428.5h3.0v3.0h-3.0zM279.1 423.5h3.0v3.0h-3.0zM369.0 434.5h3.0v3.0h-3.0zM377.2 364.5h3.0v3.0h-3.0zM385.4 209.5h3.0v3.0h-3.0zM393.5 412.5h3.0v3.0h-3.0zM401.7 428.5h3.0v3.0h-3.0zM409.9 423.5h3.0v3.0h-3.0zM565.2 407.5h3.0v3.0h-3.0zM573.3 421.5h3.0v3.0h-3.0zM581.5 434.5h3.0v3.0h-3.0z" fill="#f03232" stroke="none"/>
<polyline points="60.0,112.9 68.2,121.8 76.3,120.9 84.5,122.4 92.7,129.2 100.9,133.5 109.0,134.1 117.2,137.7 125.4,143.6 133.5,143.2 141.7,135.6 149.9,127.7 158.1,121.8 166.2,116.1 174.4,108.6 182.6,104.0 190.8,106.0 198.9,106.8 207.1,103.9 215.3,97.0 223.4,98.7 231.6,100.6 239.8,90.3 248.0,100.0 256.1,117.6 264.3,138.3 272.5,141.8 280.6,143.7 288.8,153.3 297.0,164.2 305.2,158.5 313.3,154.7 321.5,154.5 329.7,155.0 337.8,140.5 346.0,134.0 354.2,133.5 362.4,135.3 370.5,123.5 378.7,126.8 386.9,141.7 395.0,153.5 403.2,146.8 411.4,153.5 419.6,162.0 427.7,169.3 435.9,158.5 444.1,154.3 452.2,158.0 460.4,158.0 468.6,149.0 476.8,148.0 484.9,153.3 493.1,159.5 501.3,149.2 509.5,151.7 517.6,158.3 525.8,165.8 534.0,159.5 542.1,159.2 550.3,165.0 558.5,166.7 566.7,157.5 574.8,155.8 583.0,160.8" stroke="#1c1c1c" stroke-width="2.0"/>
<path d="M66.7 120.3h3.0v3.0h-3.0zM74.8 119.4h3.0v3.0h-3.0zM83.0 120.9h3.0v3.0h-3.0zM91.2 127.7h3.0v3.0h-3.0zM99.4 132.0h3.0v3.0h-3.0zM107.5 132.6h3.0v3.0h-3.0zM115.7 136.2h3.0v3.0h-3.0zM123.9 142.1h3.0v3.0h-3.0zM132.0 141.7h3.0v3.0h-3.0zM140.2 134.1h3.0v3.0h-3.0zM148.4 126.2h3.0v3.0h-3.0zM156.6 120.3h3.0v3.0h-3.0zM164.7 114.6h3.0v3.0h-3.0zM172.9 107.1h3.0v3.0h-3.0zM181.1 102.5h3.0v3.0h-3.0zM189.2 104.5h3.0v3.0h-3.0zM197.4 105.3h3.0v3.0h-3.0zM205.6 102.4h3.0v3.0h-3.0zM213.8 95.5h3.0v3.0h-3.0zM221.9 97.2h3.0v3.0h-3.0zM230.1 99.1h3.0v3.0h-3.0zM238.3 88.8h3.0v3.0h-3.0zM246.5 98.5h3.0v3.0h-3.0zM254.6 116.1h3.0v3.0h-3.0zM262.8 136.8h3.0v3.0h-3.0zM271.0 140.3h3.0v3.0h-3.0zM279.1 142.2h3.0v3.0h-3.0zM287.3 151.8h3.0v3.0h-3.0zM295.5 162.7h3.0v3.0h-3.0zM303.7 157.0h3.0v3.0h-3.0zM311.8 153.2h3.0v3.0h-3.0zM320.0 153.0h3.0v3.0h-3.0zM328.2 153.5h3.0v3.0h-3.0zM336.3 139.0h3.0v3.0h-3.0zM344.5 132.5h3.0v3.0h-3.0zM352.7 132.0h3.0v3.0h-3.0zM360.9 133.8h3.0v3.0h-3.0zM369.0 122.0h3.0v3.0h-3.0zM377.2 125.3h3.0v3.0h-3.0zM385.4 140.2h3.0v3.0h-3.0zM393.5 152.0h3.0v3.0h-3.0zM401.7 145.3h3.0v3.0h-3.0zM409.9 152.0h3.0v3.0h-3.0zM418.1 160.5h3.0v3.0h-3.0zM426.2 167.8h3.0v3.0h-3.0zM434.4 157.0h3.0v3.0h-3.0zM442.6 152.8h3.0v3.0h-3.0zM450.8 156.5h3.0v3.0h-3.0zM458.9 156.5h3.0v3.0h-3.0zM467.1 147.5h3.0v3.0h-3.0zM475.3 146.5h3.0v3.0h-3.0zM483.4 151.8h3.0v3.0h-3.0zM491.6 158.0h3.0v3.0h-3.0zM499.8 147.7h3.0v3.0h-3.0zM508.0 150.2h3.0v3.0h-3.0zM516.1 156.8h3.0v3.0h-3.0zM524.3 164.3h3.0v3.0h-3.0zM532.5 158.0h3.0v3.0h-3.0zM540.6 157.7h3.0v3.0h-3.0zM548.8 163.5h3.0v3.0h-3.0zM557.0 165.2h3.0v3.0h-3.0zM565.2 156.0h3.0v3.0h-3.0zM573.3 154.3h3.0v3.0h-3.0zM581.5 159.3h3.0v3.0h-3.0z" fill="#1c1c1c" stroke="none"/>
<polyline points="60.0,441.9 68.2,441.9 76.3,436.7 84.5,435.0 92.7,436.7 100.9,440.0 109.0,435.0 117.2,427.5 125.4,441.0 133.5,441.9 141.7,441.9 149.9,440.8 158.1,440.6 166.2,441.9 174.4,441.9 182.6,440.8 190.8,440.6 198.9,441.9 207.1,441.9 215.3,440.8 223.4,441.9 231.6,441.9 239.8,441.9 248.0,428.4 256.1,418.9 264.3,437.0 272.5,425.6 280.6,419.8 288.8,425.6 297.0,437.0 305.2,438.0 313.3,440.0 321.5,441.9 329.7,441.0 337.8,440.5 346.0,439.5 354.2,441.0 362.4,441.9 370.5,434.0 378.7,423.7 386.9,418.9 395.0,415.0 403.2,419.8 411.4,413.0 419.6,427.0 427.7,432.0 435.9,434.0 444.1,432.0 452.2,438.0 460.4,440.0 468.6,439.5 476.8,435.0 484.9,433.0 493.1,440.0 501.3,434.0 509.5,424.6 517.6,433.0 525.8,432.6 534.0,431.0 542.1,430.0 550.3,436.0 558.5,434.0 566.7,433.0 574.8,432.0 583.0,439.0" stroke="#1c1c1c" stroke-width="2.0"/>
<path d="M74.8 435.2h3.0v3.0h-3.0zM83.0 433.5h3.0v3.0h-3.0zM91.2 435.2h3.0v3.0h-3.0zM99.4 438.5h3.0v3.0h-3.0zM107.5 433.5h3.0v3.0h-3.0zM115.7 426.0h3.0v3.0h-3.0zM123.9 439.5h3.0v3.0h-3.0zM148.4 439.3h3.0v3.0h-3.0zM156.6 439.1h3.0v3.0h-3.0zM181.1 439.3h3.0v3.0h-3.0zM189.2 439.1h3.0v3.0h-3.0zM213.8 439.3h3.0v3.0h-3.0zM246.5 426.9h3.0v3.0h-3.0zM254.6 417.4h3.0v3.0h-3.0zM262.8 435.5h3.0v3.0h-3.0zM271.0 424.1h3.0v3.0h-3.0zM279.1 418.3h3.0v3.0h-3.0zM287.3 424.1h3.0v3.0h-3.0zM295.5 435.5h3.0v3.0h-3.0zM303.7 436.5h3.0v3.0h-3.0zM311.8 438.5h3.0v3.0h-3.0zM328.2 439.5h3.0v3.0h-3.0zM336.3 439.0h3.0v3.0h-3.0zM344.5 438.0h3.0v3.0h-3.0zM352.7 439.5h3.0v3.0h-3.0zM369.0 432.5h3.0v3.0h-3.0zM377.2 422.2h3.0v3.0h-3.0zM385.4 417.4h3.0v3.0h-3.0zM393.5 413.5h3.0v3.0h-3.0zM401.7 418.3h3.0v3.0h-3.0zM409.9 411.5h3.0v3.0h-3.0zM418.1 425.5h3.0v3.0h-3.0zM426.2 430.5h3.0v3.0h-3.0zM434.4 432.5h3.0v3.0h-3.0zM442.6 430.5h3.0v3.0h-3.0zM450.8 436.5h3.0v3.0h-3.0zM458.9 438.5h3.0v3.0h-3.0zM467.1 438.0h3.0v3.0h-3.0zM475.3 433.5h3.0v3.0h-3.0zM483.4 431.5h3.0v3.0h-3.0zM491.6 438.5h3.0v3.0h-3.0zM499.8 432.5h3.0v3.0h-3.0zM508.0 423.1h3.0v3.0h-3.0zM516.1 431.5h3.0v3.0h-3.0zM524.3 431.1h3.0v3.0h-3.0zM532.5 429.5h3.0v3.0h-3.0zM540.6 428.5h3.0v3.0h-3.0zM548.8 434.5h3.0v3.0h-3.0zM557.0 432.5h3.0v3.0h-3.0zM565.2 431.5h3.0v3.0h-3.0zM573.3 430.5h3.0v3.0h-3.0zM581.5 437.5h3.0v3.0h-3.0z" fill="#1c1c1c" stroke="none"/>
</g>
<rect x="60.0" y="34.0" width="523.0" height="408.0" fill="none" stroke="#000" stroke-width="2" shape-rendering="crispEdges"/>
<g stroke="#000" stroke-width="1" shape-rendering="crispEdges"><line x1="56" y1="34.5" x2="59" y2="34.5"/><line x1="584" y1="34.5" x2="586.5" y2="34.5"/><line x1="56" y1="68.5" x2="59" y2="68.5"/><line x1="584" y1="68.5" x2="586.5" y2="68.5"/><line x1="56" y1="102.5" x2="59" y2="102.5"/><line x1="584" y1="102.5" x2="586.5" y2="102.5"/><line x1="56" y1="136.5" x2="59" y2="136.5"/><line x1="584" y1="136.5" x2="586.5" y2="136.5"/><line x1="56" y1="170.5" x2="59" y2="170.5"/><line x1="584" y1="170.5" x2="586.5" y2="170.5"/><line x1="56" y1="204.5" x2="59" y2="204.5"/><line x1="584" y1="204.5" x2="586.5" y2="204.5"/><line x1="56" y1="238.5" x2="59" y2="238.5"/><line x1="584" y1="238.5" x2="586.5" y2="238.5"/><line x1="56" y1="272.5" x2="59" y2="272.5"/><line x1="584" y1="272.5" x2="586.5" y2="272.5"/><line x1="56" y1="306.5" x2="59" y2="306.5"/><line x1="584" y1="306.5" x2="586.5" y2="306.5"/><line x1="56" y1="340.5" x2="59" y2="340.5"/><line x1="584" y1="340.5" x2="586.5" y2="340.5"/><line x1="56" y1="374.5" x2="59" y2="374.5"/><line x1="584" y1="374.5" x2="586.5" y2="374.5"/><line x1="56" y1="408.5" x2="59" y2="408.5"/><line x1="584" y1="408.5" x2="586.5" y2="408.5"/><line x1="56" y1="442.5" x2="59" y2="442.5"/><line x1="584" y1="442.5" x2="586.5" y2="442.5"/><line x1="60.5" y1="443" x2="60.5" y2="448"/><line x1="76.5" y1="443" x2="76.5" y2="446"/><line x1="92.5" y1="443" x2="92.5" y2="448"/><line x1="109.5" y1="443" x2="109.5" y2="446"/><line x1="125.5" y1="443" x2="125.5" y2="448"/><line x1="141.5" y1="443" x2="141.5" y2="446"/><line x1="158.5" y1="443" x2="158.5" y2="448"/><line x1="174.5" y1="443" x2="174.5" y2="446"/><line x1="190.5" y1="443" x2="190.5" y2="448"/><line x1="207.5" y1="443" x2="207.5" y2="446"/><line x1="223.5" y1="443" x2="223.5" y2="448"/><line x1="239.5" y1="443" x2="239.5" y2="446"/><line x1="256.5" y1="443" x2="256.5" y2="448"/><line x1="272.5" y1="443" x2="272.5" y2="446"/><line x1="288.5" y1="443" x2="288.5" y2="448"/><line x1="305.5" y1="443" x2="305.5" y2="446"/><line x1="321.5" y1="443" x2="321.5" y2="448"/><line x1="337.5" y1="443" x2="337.5" y2="446"/><line x1="354.5" y1="443" x2="354.5" y2="448"/><line x1="370.5" y1="443" x2="370.5" y2="446"/><line x1="386.5" y1="443" x2="386.5" y2="448"/><line x1="403.5" y1="443" x2="403.5" y2="446"/><line x1="419.5" y1="443" x2="419.5" y2="448"/><line x1="435.5" y1="443" x2="435.5" y2="446"/><line x1="452.5" y1="443" x2="452.5" y2="448"/><line x1="468.5" y1="443" x2="468.5" y2="446"/><line x1="484.5" y1="443" x2="484.5" y2="448"/><line x1="501.5" y1="443" x2="501.5" y2="446"/><line x1="517.5" y1="443" x2="517.5" y2="448"/><line x1="533.5" y1="443" x2="533.5" y2="446"/><line x1="550.5" y1="443" x2="550.5" y2="448"/><line x1="566.5" y1="443" x2="566.5" y2="446"/><line x1="583.5" y1="443" x2="583.5" y2="448"/></g>
<g font-family='"Liberation Sans", Arial, sans-serif' fill="#000" stroke="#fff" stroke-width="0.2" style="opacity:0.999;text-rendering:geometricPrecision"><text x="56.2" y="22.8" font-size="15.2" text-anchor="start" textLength="42.0" lengthAdjust="spacingAndGlyphs">GEFS</text><text x="109.2" y="22.8" font-size="15.2" text-anchor="start" textLength="74.6" lengthAdjust="spacingAndGlyphs">Zeitreihe</text><text x="194.3" y="22.8" font-size="15.2" text-anchor="start" textLength="39.5" lengthAdjust="spacingAndGlyphs">Bern</text><text x="440.1" y="22.8" font-size="15.2" text-anchor="start" textLength="15.1" lengthAdjust="spacingAndGlyphs">Di,</text><text x="468.9" y="22.8" font-size="15.2" text-anchor="start" textLength="86.4" lengthAdjust="spacingAndGlyphs">23.07.2013</text><text x="565" y="22.8" font-size="15.2" text-anchor="start" textLength="17" lengthAdjust="spacingAndGlyphs">00</text><text x="594.7" y="22.8" font-size="15.2" text-anchor="start" textLength="26.8" lengthAdjust="spacingAndGlyphs">UTC</text><text x="52.5" y="39.6" font-size="14.6" text-anchor="end" textLength="15.2" lengthAdjust="spacingAndGlyphs">30</text><text x="52.5" y="73.6" font-size="14.6" text-anchor="end" textLength="15.2" lengthAdjust="spacingAndGlyphs">25</text><text x="52.5" y="107.6" font-size="14.6" text-anchor="end" textLength="15.2" lengthAdjust="spacingAndGlyphs">20</text><text x="52.5" y="141.6" font-size="14.6" text-anchor="end" textLength="15.2" lengthAdjust="spacingAndGlyphs">15</text><text x="52.5" y="175.6" font-size="14.6" text-anchor="end" textLength="15.2" lengthAdjust="spacingAndGlyphs">10</text><text x="52.5" y="209.6" font-size="14.6" text-anchor="end" textLength="7.6" lengthAdjust="spacingAndGlyphs">5</text><text x="52.5" y="243.6" font-size="14.6" text-anchor="end" textLength="7.6" lengthAdjust="spacingAndGlyphs">0</text><text x="52.5" y="277.6" font-size="14.6" text-anchor="end" textLength="17.1" lengthAdjust="spacingAndGlyphs">−5</text><text x="52.5" y="311.6" font-size="14.6" text-anchor="end" textLength="24.7" lengthAdjust="spacingAndGlyphs">−10</text><text x="52.5" y="345.6" font-size="14.6" text-anchor="end" textLength="24.7" lengthAdjust="spacingAndGlyphs">−15</text><text x="52.5" y="379.6" font-size="14.6" text-anchor="end" textLength="24.7" lengthAdjust="spacingAndGlyphs">−20</text><text x="52.5" y="413.6" font-size="14.6" text-anchor="end" textLength="24.7" lengthAdjust="spacingAndGlyphs">−25</text><text x="52.5" y="447.6" font-size="14.6" text-anchor="end" textLength="24.7" lengthAdjust="spacingAndGlyphs">−30</text><text x="589.3" y="38.3" font-size="12.8" text-anchor="start" textLength="15.4" lengthAdjust="spacingAndGlyphs">48</text><text x="589.3" y="72.3" font-size="12.8" text-anchor="start" textLength="15.4" lengthAdjust="spacingAndGlyphs">44</text><text x="589.3" y="106.3" font-size="12.8" text-anchor="start" textLength="15.4" lengthAdjust="spacingAndGlyphs">40</text><text x="589.3" y="140.3" font-size="12.8" text-anchor="start" textLength="15.4" lengthAdjust="spacingAndGlyphs">36</text><text x="589.3" y="174.3" font-size="12.8" text-anchor="start" textLength="15.4" lengthAdjust="spacingAndGlyphs">32</text><text x="589.3" y="208.3" font-size="12.8" text-anchor="start" textLength="15.4" lengthAdjust="spacingAndGlyphs">28</text><text x="589.3" y="242.3" font-size="12.8" text-anchor="start" textLength="15.4" lengthAdjust="spacingAndGlyphs">24</text><text x="589.3" y="276.3" font-size="12.8" text-anchor="start" textLength="15.4" lengthAdjust="spacingAndGlyphs">20</text><text x="589.3" y="310.3" font-size="12.8" text-anchor="start" textLength="15.4" lengthAdjust="spacingAndGlyphs">16</text><text x="589.3" y="344.3" font-size="12.8" text-anchor="start" textLength="15.4" lengthAdjust="spacingAndGlyphs">12</text><text x="589.3" y="378.3" font-size="12.8" text-anchor="start" textLength="7.7" lengthAdjust="spacingAndGlyphs">8</text><text x="589.3" y="412.3" font-size="12.8" text-anchor="start" textLength="7.7" lengthAdjust="spacingAndGlyphs">4</text><text x="589.3" y="446.3" font-size="12.8" text-anchor="start" textLength="7.7" lengthAdjust="spacingAndGlyphs">0</text><text x="60.0" y="457" font-size="10" text-anchor="middle" textLength="10.5" lengthAdjust="spacingAndGlyphs" stroke="#000" stroke-width="0.15">00</text><text x="76.3" y="457" font-size="10" text-anchor="middle" textLength="10.5" lengthAdjust="spacingAndGlyphs" stroke="#000" stroke-width="0.15">12</text><text x="92.7" y="457" font-size="10" text-anchor="middle" textLength="10.5" lengthAdjust="spacingAndGlyphs" stroke="#000" stroke-width="0.15">00</text><text x="109.0" y="457" font-size="10" text-anchor="middle" textLength="10.5" lengthAdjust="spacingAndGlyphs" stroke="#000" stroke-width="0.15">12</text><text x="125.4" y="457" font-size="10" text-anchor="middle" textLength="10.5" lengthAdjust="spacingAndGlyphs" stroke="#000" stroke-width="0.15">00</text><text x="141.7" y="457" font-size="10" text-anchor="middle" textLength="10.5" lengthAdjust="spacingAndGlyphs" stroke="#000" stroke-width="0.15">12</text><text x="158.1" y="457" font-size="10" text-anchor="middle" textLength="10.5" lengthAdjust="spacingAndGlyphs" stroke="#000" stroke-width="0.15">00</text><text x="174.4" y="457" font-size="10" text-anchor="middle" textLength="10.5" lengthAdjust="spacingAndGlyphs" stroke="#000" stroke-width="0.15">12</text><text x="190.8" y="457" font-size="10" text-anchor="middle" textLength="10.5" lengthAdjust="spacingAndGlyphs" stroke="#000" stroke-width="0.15">00</text><text x="207.1" y="457" font-size="10" text-anchor="middle" textLength="10.5" lengthAdjust="spacingAndGlyphs" stroke="#000" stroke-width="0.15">12</text><text x="223.4" y="457" font-size="10" text-anchor="middle" textLength="10.5" lengthAdjust="spacingAndGlyphs" stroke="#000" stroke-width="0.15">00</text><text x="239.8" y="457" font-size="10" text-anchor="middle" textLength="10.5" lengthAdjust="spacingAndGlyphs" stroke="#000" stroke-width="0.15">12</text><text x="256.1" y="457" font-size="10" text-anchor="middle" textLength="10.5" lengthAdjust="spacingAndGlyphs" stroke="#000" stroke-width="0.15">00</text><text x="272.5" y="457" font-size="10" text-anchor="middle" textLength="10.5" lengthAdjust="spacingAndGlyphs" stroke="#000" stroke-width="0.15">12</text><text x="288.8" y="457" font-size="10" text-anchor="middle" textLength="10.5" lengthAdjust="spacingAndGlyphs" stroke="#000" stroke-width="0.15">00</text><text x="305.2" y="457" font-size="10" text-anchor="middle" textLength="10.5" lengthAdjust="spacingAndGlyphs" stroke="#000" stroke-width="0.15">12</text><text x="321.5" y="457" font-size="10" text-anchor="middle" textLength="10.5" lengthAdjust="spacingAndGlyphs" stroke="#000" stroke-width="0.15">00</text><text x="337.8" y="457" font-size="10" text-anchor="middle" textLength="10.5" lengthAdjust="spacingAndGlyphs" stroke="#000" stroke-width="0.15">12</text><text x="354.2" y="457" font-size="10" text-anchor="middle" textLength="10.5" lengthAdjust="spacingAndGlyphs" stroke="#000" stroke-width="0.15">00</text><text x="370.5" y="457" font-size="10" text-anchor="middle" textLength="10.5" lengthAdjust="spacingAndGlyphs" stroke="#000" stroke-width="0.15">12</text><text x="386.9" y="457" font-size="10" text-anchor="middle" textLength="10.5" lengthAdjust="spacingAndGlyphs" stroke="#000" stroke-width="0.15">00</text><text x="403.2" y="457" font-size="10" text-anchor="middle" textLength="10.5" lengthAdjust="spacingAndGlyphs" stroke="#000" stroke-width="0.15">12</text><text x="419.6" y="457" font-size="10" text-anchor="middle" textLength="10.5" lengthAdjust="spacingAndGlyphs" stroke="#000" stroke-width="0.15">00</text><text x="435.9" y="457" font-size="10" text-anchor="middle" textLength="10.5" lengthAdjust="spacingAndGlyphs" stroke="#000" stroke-width="0.15">12</text><text x="452.2" y="457" font-size="10" text-anchor="middle" textLength="10.5" lengthAdjust="spacingAndGlyphs" stroke="#000" stroke-width="0.15">00</text><text x="468.6" y="457" font-size="10" text-anchor="middle" textLength="10.5" lengthAdjust="spacingAndGlyphs" stroke="#000" stroke-width="0.15">12</text><text x="484.9" y="457" font-size="10" text-anchor="middle" textLength="10.5" lengthAdjust="spacingAndGlyphs" stroke="#000" stroke-width="0.15">00</text><text x="501.3" y="457" font-size="10" text-anchor="middle" textLength="10.5" lengthAdjust="spacingAndGlyphs" stroke="#000" stroke-width="0.15">12</text><text x="517.6" y="457" font-size="10" text-anchor="middle" textLength="10.5" lengthAdjust="spacingAndGlyphs" stroke="#000" stroke-width="0.15">00</text><text x="534.0" y="457" font-size="10" text-anchor="middle" textLength="10.5" lengthAdjust="spacingAndGlyphs" stroke="#000" stroke-width="0.15">12</text><text x="550.3" y="457" font-size="10" text-anchor="middle" textLength="10.5" lengthAdjust="spacingAndGlyphs" stroke="#000" stroke-width="0.15">00</text><text x="566.7" y="457" font-size="10" text-anchor="middle" textLength="10.5" lengthAdjust="spacingAndGlyphs" stroke="#000" stroke-width="0.15">12</text><text x="579" y="457" font-size="10" text-anchor="start" textLength="16.5" lengthAdjust="spacingAndGlyphs" stroke="#000" stroke-width="0.15">UTC</text><text x="88.1" y="471.5" font-size="13" text-anchor="start" textLength="33.5" lengthAdjust="spacingAndGlyphs">24Jul</text><text x="153.5" y="471.5" font-size="13" text-anchor="start" textLength="33.5" lengthAdjust="spacingAndGlyphs">26Jul</text><text x="218.8" y="471.5" font-size="13" text-anchor="start" textLength="33.5" lengthAdjust="spacingAndGlyphs">28Jul</text><text x="284.2" y="471.5" font-size="13" text-anchor="start" textLength="33.5" lengthAdjust="spacingAndGlyphs">30Jul</text><text x="349.6" y="471.5" font-size="13" text-anchor="start" textLength="31" lengthAdjust="spacingAndGlyphs">1Aug</text><text x="415.0" y="471.5" font-size="13" text-anchor="start" textLength="31" lengthAdjust="spacingAndGlyphs">3Aug</text><text x="480.3" y="471.5" font-size="13" text-anchor="start" textLength="31" lengthAdjust="spacingAndGlyphs">5Aug</text><text x="545.7" y="471.5" font-size="13" text-anchor="start" textLength="31" lengthAdjust="spacingAndGlyphs">7Aug</text><text x="98.5" y="482.5" font-size="10.4" text-anchor="start" textLength="64" lengthAdjust="spacingAndGlyphs" stroke="none">Kontrolllauf</text><text x="230" y="482.5" font-size="10.4" text-anchor="start" textLength="52" lengthAdjust="spacingAndGlyphs" stroke="none">Mittelwert</text><text x="310.3" y="482.5" font-size="10.4" text-anchor="start" textLength="72.5" lengthAdjust="spacingAndGlyphs" stroke="none">Koordinaten:</text><text x="389.8" y="482.5" font-size="10.4" text-anchor="start" textLength="55.2" lengthAdjust="spacingAndGlyphs" stroke="none">7°O/47°N</text><text x="522" y="482.5" font-size="10.4" text-anchor="start" textLength="79" lengthAdjust="spacingAndGlyphs" stroke="none">WetterOnline</text><text transform="translate(24,334.5) rotate(-90)" font-size="14.6" textLength="85.0" lengthAdjust="spacingAndGlyphs">Temperatur</text><text transform="translate(24,239.5) rotate(-90)" font-size="14.6" textLength="30.0" lengthAdjust="spacingAndGlyphs">850</text><text transform="translate(24,199.5) rotate(-90)" font-size="14.6" textLength="25.0" lengthAdjust="spacingAndGlyphs">hPa</text><text transform="translate(24,162.5) rotate(-90)" font-size="14.6" textLength="30.0" lengthAdjust="spacingAndGlyphs">[°C]</text><text transform="translate(621.3,323.3) rotate(-90)" font-size="14.2" textLength="96.1" lengthAdjust="spacingAndGlyphs">Niederschlag</text><text transform="translate(621.3,217.5) rotate(-90)" font-size="14.2" textLength="72.3" lengthAdjust="spacingAndGlyphs">[mm/6h]</text></g>
<g shape-rendering="crispEdges"><line x1="59" y1="480" x2="94" y2="480" stroke="#f03232" stroke-width="2"/><rect x="58" y="478" width="3" height="4" fill="#f03232"/><rect x="92" y="478" width="3" height="4" fill="#f03232"/><line x1="190" y1="480" x2="225" y2="480" stroke="#222" stroke-width="2"/><rect x="189" y="478" width="3" height="4" fill="#222"/><rect x="223" y="478" width="3" height="4" fill="#222"/></g>
<rect x="192.5" y="60.4" width="90" height="69" rx="9" ry="9" fill="none" stroke="#fc04fc" stroke-width="3.1"/></svg></div>
</div>
</body></html>
